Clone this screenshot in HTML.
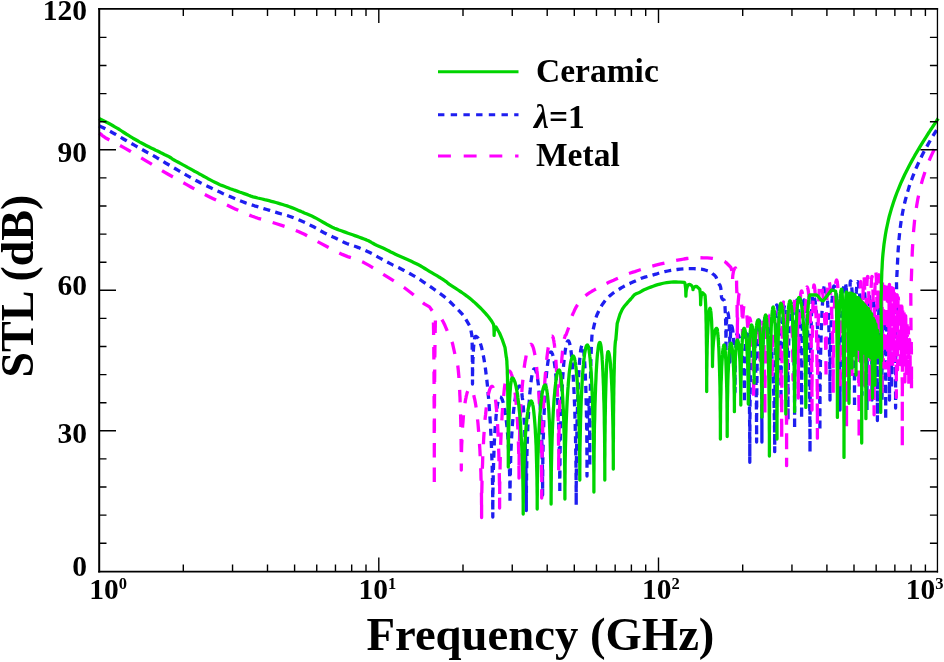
<!DOCTYPE html>
<html><head><meta charset="utf-8"><style>
html,body{margin:0;padding:0;background:#fff;width:944px;height:662px;overflow:hidden}
svg{display:block;will-change:transform}
</style></head><body>
<svg width="944" height="662" viewBox="0 0 944 662">
<g fill="none" stroke-linejoin="round">
<path d="M99.0,125.9L102.2,127.2 104.3,128.3 106.9,129.6 109.8,131.2 112.6,132.7 115.3,134.2 118.0,135.8 120.8,137.4 123.5,139.0 126.1,140.5 128.7,142.0 131.3,143.4 133.9,144.9 136.5,146.4 139.1,147.9 141.7,149.3 144.3,150.8 147.0,152.3 149.8,153.7 152.5,155.2 155.2,156.7 157.8,158.3 160.4,159.8 163.0,161.4 165.6,163.0 168.2,164.5 170.7,166.0 173.3,167.5 175.9,169.0 178.6,170.6 181.3,172.2 184.1,173.8 186.8,175.4 189.5,176.9 192.2,178.4 194.9,179.9 197.6,181.3 200.3,182.7 203.0,184.0 205.7,185.4 208.5,186.7 211.3,188.1 214.2,189.4 217.0,190.8 219.9,192.1 222.7,193.4 225.5,194.6 228.4,195.9 231.2,197.1 234.1,198.3 236.9,199.5 239.8,200.7 242.7,201.8 245.6,202.9 248.6,203.9 251.5,204.8 254.5,205.8 257.5,206.7 260.6,207.7 263.7,208.6 266.7,209.5 269.7,210.4 272.6,211.3 275.5,212.2 278.5,213.1 281.6,214.0 284.7,214.8 287.8,215.7 290.8,216.7 293.7,217.8 296.5,218.9 299.3,220.1 302.1,221.3 305.0,222.6 307.9,224.0 310.8,225.4 313.6,226.8 316.3,228.3 318.8,229.8 321.4,231.3 324.0,232.7 326.8,234.1 329.6,235.4 332.5,236.8 335.4,238.1 338.2,239.5 341.0,240.9 343.8,242.2 346.7,243.5 349.6,244.6 352.6,245.6 355.6,246.5 358.5,247.6 361.4,248.8 364.2,250.0 367.0,251.3 369.8,252.6 372.6,254.0 375.3,255.5 378.1,257.1 380.9,258.6 383.8,260.2 386.8,261.8 389.8,263.4 392.7,264.9 395.6,266.3 398.4,267.6 401.2,269.0 404.0,270.4 406.8,271.9 409.7,273.5 412.5,275.1 415.3,276.7 418.0,278.4 420.6,280.0 423.2,281.8 425.8,283.5 428.4,285.3 431.1,287.1 433.7,289.0 436.2,290.8 438.7,292.6 441.1,294.3 443.5,296.1 445.9,298.1 448.3,300.2 450.7,302.5 453.1,304.9 455.4,307.2 457.7,309.4 459.9,311.6 462.0,313.9 464.0,316.3 470.4,327.1 471.6,334.0 471.7,334.2 471.8,335.0 471.9,336.2 471.9,337.8 472.0,339.9 472.1,342.4 472.2,345.3 472.2,348.6 472.3,352.3 472.3,356.2 472.4,360.4 472.4,364.9 472.5,369.5 472.5,374.2 472.5,379.1 472.5,384.0 472.5,379.8 472.5,375.7 472.6,371.7 472.7,367.7 472.8,363.8 472.9,360.2 473.1,356.6 473.2,353.3 473.4,350.3 473.6,347.5 473.8,344.9 474.1,342.7 474.3,340.8 474.5,339.2 474.8,337.9 475.1,337.0 475.3,336.5 475.6,336.3 476.3,336.4 476.9,336.9 477.6,337.6 478.3,338.5 479.0,339.8 479.6,341.3 480.3,343.1 480.9,345.1 481.6,347.5 482.2,350.1 482.8,352.9 483.4,356.0 484.0,359.3 484.6,362.9 485.2,366.8 485.7,370.8 486.2,375.1 486.8,379.6 487.3,384.3 487.8,389.2 488.2,394.3 488.7,399.6 489.1,405.1 489.5,410.8 489.9,416.6 490.3,422.6 490.6,428.7 490.9,435.0 491.2,441.3 491.5,447.8 491.7,454.5 492.0,461.2 492.2,468.0 492.3,474.8 492.5,481.7 492.6,488.7 492.7,495.8 492.7,502.8 492.8,509.9 492.8,517.0 492.8,512.3 492.8,507.6 492.8,502.9 492.9,498.2 492.9,493.6 493.0,489.0 493.1,484.4 493.2,479.9 493.2,475.5 493.3,471.1 493.5,466.8 493.6,462.5 493.7,458.4 493.9,454.3 494.0,450.3 494.2,446.5 494.3,442.7 494.5,439.1 494.7,435.5 494.9,432.1 495.1,428.9 495.3,425.8 495.5,422.8 495.8,419.9 496.0,417.2 496.2,414.7 496.5,412.3 496.7,410.1 497.0,408.0 497.2,406.1 497.5,404.4 497.8,402.9 498.0,401.5 498.3,400.3 498.6,399.3 498.9,398.5 499.2,397.8 499.4,397.4 499.7,397.1 500.0,397.0 500.4,397.1 500.8,397.3 501.2,397.7 501.6,398.3 502.0,399.0 502.3,399.9 502.7,401.0 503.1,402.2 503.5,403.6 503.8,405.1 504.2,406.7 504.5,408.6 504.9,410.5 505.2,412.6 505.6,414.9 505.9,417.2 506.2,419.8 506.5,422.4 506.8,425.2 507.1,428.0 507.3,431.0 507.6,434.2 507.9,437.4 508.1,440.7 508.3,444.1 508.5,447.6 508.7,451.2 508.9,454.9 509.1,458.6 509.2,462.4 509.4,466.3 509.5,470.2 509.6,474.2 509.7,478.3 509.8,482.3 509.9,486.4 509.9,490.5 510.0,494.7 510.0,498.8 510.0,503.0 510.0,498.4 510.0,493.8 510.1,489.2 510.1,484.7 510.2,480.2 510.3,475.7 510.4,471.2 510.5,466.8 510.6,462.5 510.7,458.2 510.9,454.0 511.0,449.9 511.2,445.8 511.4,441.9 511.6,438.0 511.8,434.2 512.0,430.6 512.3,427.0 512.5,423.6 512.8,420.3 513.1,417.1 513.3,414.0 513.6,411.1 513.9,408.3 514.2,405.7 514.5,403.2 514.9,400.9 515.2,398.8 515.5,396.7 515.9,394.9 516.2,393.2 516.6,391.7 516.9,390.4 517.3,389.2 517.6,388.2 518.0,387.4 518.4,386.8 518.8,386.4 519.1,386.1 519.5,386.0 519.8,386.1 520.0,386.4 520.3,386.9 520.6,387.5 520.8,388.4 521.1,389.4 521.3,390.7 521.6,392.1 521.9,393.7 522.1,395.5 522.3,397.4 522.6,399.6 522.8,401.9 523.1,404.4 523.3,407.0 523.5,409.8 523.7,412.7 523.9,415.9 524.1,419.1 524.3,422.5 524.5,426.0 524.7,429.7 524.8,433.5 525.0,437.4 525.2,441.4 525.3,445.5 525.4,449.7 525.6,454.0 525.7,458.4 525.8,462.9 525.9,467.5 526.0,472.1 526.0,476.8 526.1,481.5 526.2,486.3 526.2,491.1 526.3,496.0 526.3,500.8 526.3,505.7 526.3,510.6 526.3,505.0 526.3,499.5 526.4,493.9 526.4,488.4 526.5,482.9 526.5,477.5 526.6,472.1 526.7,466.8 526.8,461.5 526.9,456.3 527.0,451.2 527.2,446.2 527.3,441.3 527.5,436.5 527.7,431.8 527.8,427.3 528.0,422.8 528.2,418.5 528.5,414.3 528.7,410.3 528.9,406.5 529.1,402.8 529.4,399.2 529.6,395.9 529.9,392.7 530.2,389.7 530.4,386.9 530.7,384.3 531.0,381.8 531.3,379.6 531.6,377.6 531.9,375.7 532.2,374.1 532.5,372.7 532.8,371.5 533.1,370.5 533.4,369.8 533.8,369.2 534.1,368.9 534.4,368.8 534.7,368.9 535.0,369.2 535.4,369.7 535.7,370.4 536.0,371.2 536.3,372.3 536.6,373.5 536.9,375.0 537.2,376.6 537.5,378.4 537.8,380.4 538.1,382.6 538.4,384.9 538.7,387.4 539.0,390.1 539.2,392.9 539.5,395.9 539.7,399.0 540.0,402.3 540.2,405.8 540.4,409.3 540.6,413.0 540.8,416.9 541.0,420.8 541.2,424.9 541.4,429.1 541.6,433.3 541.7,437.7 541.8,442.2 542.0,446.7 542.1,451.3 542.2,456.0 542.3,460.7 542.4,465.5 542.4,470.4 542.5,475.3 542.5,480.2 542.6,485.1 542.6,490.0 542.6,495.0 542.6,489.4 542.6,483.8 542.7,478.2 542.7,472.6 542.8,467.1 542.8,461.6 542.9,456.2 543.0,450.8 543.1,445.5 543.2,440.3 543.4,435.1 543.5,430.1 543.7,425.1 543.8,420.3 544.0,415.6 544.2,410.9 544.4,406.5 544.6,402.1 544.8,397.9 545.1,393.9 545.3,390.0 545.5,386.3 545.8,382.7 546.1,379.3 546.3,376.1 546.6,373.1 546.9,370.2 547.2,367.6 547.5,365.1 547.8,362.9 548.1,360.8 548.4,359.0 548.7,357.4 549.0,356.0 549.4,354.7 549.7,353.8 550.0,353.0 550.3,352.4 550.7,352.1 551.0,352.0 551.3,352.1 551.7,352.4 552.0,353.0 552.4,353.7 552.7,354.7 553.1,355.9 553.4,357.3 553.7,358.9 554.0,360.7 554.4,362.7 554.7,365.0 555.0,367.4 555.3,370.0 555.6,372.8 555.9,375.8 556.2,378.9 556.4,382.3 556.7,385.8 557.0,389.5 557.2,393.3 557.5,397.3 557.7,401.4 557.9,405.7 558.1,410.1 558.3,414.7 558.5,419.3 558.7,424.1 558.8,429.0 559.0,434.0 559.1,439.0 559.3,444.2 559.4,449.4 559.5,454.7 559.6,460.1 559.6,465.5 559.7,470.9 559.7,476.4 559.8,481.9 559.8,487.5 559.8,493.0 559.8,487.0 559.8,481.1 559.9,475.1 559.9,469.2 560.0,463.3 560.0,457.5 560.1,451.7 560.2,446.0 560.3,440.3 560.4,434.8 560.6,429.3 560.7,423.9 560.9,418.6 561.0,413.5 561.2,408.4 561.4,403.5 561.6,398.8 561.8,394.2 562.0,389.7 562.3,385.4 562.5,381.2 562.7,377.3 563.0,373.5 563.3,369.9 563.5,366.5 563.8,363.2 564.1,360.2 564.4,357.4 564.7,354.8 565.0,352.4 565.3,350.2 565.6,348.2 565.9,346.5 566.2,345.0 566.6,343.7 566.9,342.7 567.2,341.9 567.5,341.3 567.9,340.9 568.2,340.8 568.5,340.9 568.8,341.3 569.1,341.9 569.5,342.8 569.8,344.0 570.1,345.3 570.4,347.0 570.7,348.8 571.0,350.9 571.3,353.3 571.5,355.9 571.8,358.7 572.1,361.7 572.4,365.0 572.6,368.5 572.9,372.2 573.2,376.1 573.4,380.1 573.6,384.4 573.9,388.9 574.1,393.5 574.3,398.4 574.5,403.3 574.7,408.5 574.9,413.8 575.0,419.2 575.2,424.8 575.3,430.5 575.5,436.3 575.6,442.2 575.7,448.2 575.8,454.3 575.9,460.4 576.0,466.7 576.0,473.0 576.1,479.3 576.1,485.7 576.2,492.1 576.2,498.6 576.2,505.0 576.2,498.7 576.2,492.4 576.2,486.2 576.3,480.0 576.3,473.8 576.4,467.6 576.4,461.6 576.5,455.6 576.6,449.6 576.7,443.8 576.8,438.0 576.9,432.4 577.0,426.8 577.1,421.4 577.2,416.1 577.4,411.0 577.5,405.9 577.7,401.1 577.8,396.4 578.0,391.9 578.2,387.5 578.3,383.3 578.5,379.3 578.7,375.6 578.9,372.0 579.1,368.6 579.3,365.4 579.5,362.4 579.7,359.7 580.0,357.2 580.2,354.9 580.4,352.8 580.6,351.0 580.9,349.4 581.1,348.1 581.3,347.0 581.6,346.1 581.8,345.5 582.1,345.1 582.3,345.0 582.5,345.1 582.7,345.4 582.9,345.9 583.0,346.6 583.2,347.5 583.4,348.6 583.6,349.9 583.8,351.4 583.9,353.1 584.1,355.0 584.3,357.0 584.4,359.3 584.6,361.7 584.8,364.3 584.9,367.1 585.1,370.0 585.2,373.1 585.4,376.4 585.5,379.8 585.6,383.4 585.8,387.1 585.9,390.9 586.0,394.9 586.1,399.0 586.2,403.2 586.3,407.6 586.4,412.0 586.5,416.5 586.6,421.2 586.6,425.9 586.7,430.7 586.8,435.5 586.8,440.4 586.9,445.4 586.9,450.4 586.9,455.5 587.0,460.6 587.0,465.7 587.0,470.9 587.0,476.0 587.0,471.4 587.0,466.8 587.0,462.3 587.0,457.8 587.1,453.4 587.1,449.1 587.1,444.8 587.2,440.7 587.2,436.7 587.3,432.8 587.3,429.1 587.4,425.6 587.4,422.3 587.5,419.1 587.6,416.2 587.6,413.5 587.7,411.0 587.8,408.7 587.9,406.7 588.0,404.9 588.1,403.4 588.1,402.2 588.2,401.2 588.3,400.6 588.4,400.1 588.5,400.0 588.6,400.2 588.7,400.6 588.8,401.4 588.9,402.4 588.9,403.8 589.0,405.5 589.1,407.4 589.2,409.6 589.2,412.1 589.3,414.8 589.4,417.8 589.5,421.0 589.5,424.3 589.6,427.9 589.6,431.7 589.7,435.6 589.7,439.7 589.7,443.9 589.8,448.2 589.8,452.6 589.8,457.0 589.8,461.5 589.8,466.0 589.8,460.7 589.8,455.5 589.8,450.2 589.8,445.0 589.9,439.8 589.9,434.6 589.9,429.5 589.9,424.5 590.0,419.5 590.0,414.6 590.1,409.8 590.1,405.0 590.2,400.4 590.2,395.8 590.3,391.4 590.4,387.1 590.4,382.9 590.5,378.8 590.6,374.8 590.6,371.0 590.7,367.4 590.8,363.9 590.9,360.5 591.0,357.3 591.1,354.3 591.2,351.5 591.3,348.8 591.4,346.3 591.5,344.0 591.6,341.9 591.7,340.0 591.8,338.3 591.9,336.7 592.0,335.4 592.1,334.3 592.2,333.4 592.4,332.6 592.5,332.1 592.6,331.8 592.7,331.7 595.8,318.0 596.9,315.0 598.3,312.0 599.6,309.4 600.8,307.1 601.8,305.3 602.7,303.9 603.6,302.7 604.5,301.5 605.5,300.2 606.6,299.0 607.8,297.8 608.9,296.7 610.0,295.6 611.1,294.7 612.3,293.7 613.5,292.8 614.8,291.9 616.1,291.1 617.5,290.2 618.9,289.4 620.3,288.5 621.6,287.7 623.1,286.8 624.5,286.0 625.9,285.3 627.4,284.6 628.9,283.9 630.7,283.1 632.9,282.1 635.4,280.9 637.8,279.8 639.7,279.0 642.2,278.0 644.8,277.2 648.2,276.3 651.9,275.3 654.9,274.4 657.0,273.8 658.6,273.2 660.2,272.7 662.2,272.2 664.8,271.6 667.8,271.0 670.9,270.4 674.0,269.9 677.1,269.5 680.2,269.1 683.4,268.9 686.6,268.7 689.9,268.7 693.4,268.7 696.6,268.8 699.3,269.0 701.2,269.2 702.6,269.4 703.7,269.6 705.0,270.0 706.6,270.5 708.3,271.0 709.9,271.6 711.1,272.2 712.9,274.0 713.6,274.5 714.3,275.1 715.2,275.9 716.0,277.0 719.5,285.0 720.0,285.4 720.4,286.5 720.8,288.2 721.1,290.5 721.3,293.2 721.4,296.0 721.5,297.0 721.7,298.0 722.2,298.8 722.7,299.5 723.3,299.9 724.0,300.0 724.2,300.2 724.3,300.7 724.5,301.6 724.6,302.8 724.8,304.4 725.0,306.3 725.1,308.5 725.2,311.0 725.4,313.7 725.5,316.8 725.6,320.1 725.7,323.6 725.8,327.3 725.8,331.1 725.9,335.1 725.9,339.2 726.0,343.4 726.0,347.7 726.0,352.0 726.0,347.5 726.0,343.1 726.1,338.8 726.1,334.6 726.2,330.7 726.3,327.1 726.4,323.7 726.6,320.7 726.7,318.1 726.8,316.0 727.0,314.2 727.2,313.0 727.3,312.3 727.5,312.0 727.7,312.2 727.9,312.8 728.1,313.7 728.4,315.0 728.6,316.7 728.8,318.7 728.9,321.0 729.1,323.7 729.3,326.6 729.4,329.9 729.5,333.3 729.7,337.0 729.8,340.9 729.8,344.9 729.9,349.1 730.0,353.3 730.0,357.6 730.0,362.0 730.0,357.7 730.0,353.4 730.1,349.2 730.2,345.3 730.3,341.5 730.4,338.1 730.5,335.1 730.6,332.4 730.8,330.1 731.0,328.3 731.1,327.0 731.3,326.3 731.5,326.0 731.7,326.1 731.9,326.5 732.2,327.2 732.4,328.1 732.6,329.2 732.8,330.6 733.0,332.3 733.2,334.2 733.4,336.3 733.6,338.6 733.7,341.1 733.9,343.9 734.1,346.8 734.2,349.9 734.3,353.2 734.5,356.6 734.6,360.2 734.7,363.9 734.8,367.7 734.8,371.6 734.9,375.6 734.9,379.6 735.0,383.7 735.0,387.9 735.0,392.0 735.0,387.7 735.0,383.4 735.1,379.1 735.1,374.9 735.1,370.8 735.2,366.8 735.3,363.0 735.3,359.3 735.4,355.8 735.5,352.5 735.6,349.5 735.8,346.7 735.9,344.1 736.0,341.8 736.1,339.7 736.3,338.0 736.4,336.6 736.6,335.5 736.7,334.6 736.9,334.2 737.0,334.0 737.4,334.1 737.8,334.4 738.2,334.9 738.6,335.6 739.0,336.5 739.4,337.6 739.8,338.9 740.1,340.3 740.5,342.0 740.9,343.8 741.2,345.8 741.5,348.0 741.9,350.3 742.2,352.8 742.4,355.4 742.7,358.2 743.0,361.1 743.2,364.1 743.4,367.2 743.6,370.5 743.8,373.8 744.0,377.2 744.1,380.7 744.2,384.2 744.3,387.9 744.4,391.5 744.5,395.2 744.5,398.9 744.5,402.6 744.5,398.2 744.5,393.8 744.5,389.5 744.6,385.2 744.6,381.0 744.6,376.9 744.7,372.8 744.7,368.9 744.8,365.0 744.9,361.4 744.9,357.8 745.0,354.5 745.1,351.3 745.2,348.3 745.3,345.5 745.4,342.9 745.5,340.5 745.6,338.3 745.7,336.4 745.8,334.7 745.9,333.3 746.0,332.1 746.1,331.2 746.3,330.5 746.4,330.1 746.5,330.0 746.6,330.1 746.8,330.4 746.9,330.9 747.0,331.6 747.1,332.5 747.3,333.7 747.4,335.0 747.5,336.5 747.6,338.2 747.8,340.1 747.9,342.2 748.0,344.4 748.1,346.9 748.2,349.5 748.3,352.3 748.4,355.3 748.5,358.4 748.6,361.7 748.7,365.1 748.8,368.7 748.9,372.5 749.0,376.4 749.1,380.4 749.2,384.5 749.2,388.8 749.3,393.2 749.4,397.7 749.4,402.2 749.5,406.9 749.5,411.7 749.6,416.5 749.6,421.4 749.7,426.4 749.7,431.4 749.7,436.5 749.8,441.6 749.8,446.7 749.8,451.9 749.8,457.1 749.8,462.3 749.8,456.9 749.8,451.5 749.8,446.2 749.8,440.8 749.9,435.5 749.9,430.2 749.9,425.0 749.9,419.9 750.0,414.8 750.0,409.8 750.0,404.8 750.1,400.0 750.1,395.2 750.2,390.6 750.3,386.0 750.3,381.6 750.4,377.3 750.4,373.1 750.5,369.1 750.6,365.2 750.7,361.5 750.7,357.9 750.8,354.5 750.9,351.2 751.0,348.1 751.1,345.2 751.2,342.5 751.3,340.0 751.4,337.6 751.5,335.5 751.6,333.5 751.7,331.7 751.8,330.2 751.9,328.8 752.0,327.6 752.1,326.7 752.2,326.0 752.3,325.4 752.4,325.1 752.5,325.0 752.7,325.1 752.8,325.4 753.0,325.8 753.1,326.4 753.3,327.2 753.5,328.2 753.6,329.4 753.8,330.7 753.9,332.2 754.1,333.9 754.2,335.7 754.4,337.8 754.5,339.9 754.6,342.2 754.8,344.7 754.9,347.3 755.0,350.1 755.2,353.0 755.3,356.1 755.4,359.3 755.5,362.6 755.6,366.0 755.7,369.6 755.8,373.2 755.9,377.0 756.0,380.9 756.1,384.8 756.2,388.9 756.2,393.0 756.3,397.2 756.3,401.5 756.4,405.8 756.4,410.2 756.5,414.7 756.5,419.2 756.5,423.7 756.6,428.2 756.6,432.8 756.6,437.4 756.6,442.0 756.6,437.2 756.6,432.4 756.6,427.7 756.6,422.9 756.6,418.2 756.7,413.5 756.7,408.9 756.7,404.3 756.7,399.8 756.8,395.3 756.8,390.9 756.9,386.6 756.9,382.4 757.0,378.3 757.0,374.2 757.1,370.3 757.1,366.5 757.2,362.8 757.2,359.2 757.3,355.7 757.4,352.4 757.4,349.2 757.5,346.2 757.6,343.3 757.7,340.6 757.7,338.0 757.8,335.6 757.9,333.3 758.0,331.2 758.1,329.3 758.2,327.5 758.3,326.0 758.3,324.6 758.4,323.4 758.5,322.3 758.6,321.5 758.7,320.8 758.8,320.4 758.9,320.1 759.0,320.0 759.1,320.1 759.2,320.4 759.3,320.8 759.5,321.5 759.6,322.3 759.7,323.4 759.8,324.6 759.9,326.0 760.0,327.5 760.1,329.3 760.2,331.2 760.3,333.3 760.4,335.6 760.5,338.0 760.6,340.6 760.7,343.3 760.8,346.2 760.9,349.2 761.0,352.4 761.1,355.7 761.1,359.2 761.2,362.8 761.3,366.5 761.3,370.3 761.4,374.2 761.5,378.3 761.5,382.4 761.6,386.6 761.6,390.9 761.7,395.3 761.7,399.8 761.8,404.3 761.8,408.9 761.8,413.5 761.8,418.2 761.9,422.9 761.9,427.7 761.9,432.4 761.9,437.2 761.9,442.0 761.9,437.1 761.9,432.3 761.9,427.4 761.9,422.6 762.0,417.8 762.0,413.1 762.0,408.3 762.1,403.7 762.1,399.1 762.1,394.5 762.2,390.1 762.2,385.7 762.3,381.4 762.4,377.2 762.4,373.1 762.5,369.1 762.6,365.2 762.6,361.5 762.7,357.8 762.8,354.3 762.9,350.9 763.0,347.7 763.1,344.6 763.2,341.7 763.3,338.9 763.4,336.3 763.5,333.8 763.6,331.5 763.7,329.4 763.8,327.4 763.9,325.7 764.0,324.1 764.2,322.7 764.3,321.4 764.4,320.4 764.5,319.5 764.6,318.9 764.8,318.4 764.9,318.1 765.0,318.0 765.4,318.1 765.8,318.4 766.1,318.9 766.5,319.6 766.9,320.6 767.3,321.7 767.6,323.0 768.0,324.5 768.4,326.3 768.7,328.2 769.1,330.3 769.4,332.6 769.7,335.0 770.1,337.7 770.4,340.5 770.7,343.5 771.0,346.7 771.3,350.0 771.6,353.5 771.9,357.2 772.1,360.9 772.4,364.9 772.6,368.9 772.8,373.1 773.1,377.4 773.3,381.8 773.5,386.4 773.6,391.0 773.8,395.7 774.0,400.5 774.1,405.4 774.2,410.4 774.3,415.4 774.4,420.5 774.5,425.6 774.6,430.8 774.6,436.0 774.7,441.2 774.7,446.5 774.7,451.7 774.7,445.9 774.7,440.2 774.7,434.5 774.7,428.8 774.7,423.1 774.8,417.5 774.8,411.9 774.8,406.4 774.8,400.9 774.9,395.6 774.9,390.3 774.9,385.1 775.0,380.0 775.0,375.0 775.0,370.2 775.1,365.5 775.1,360.9 775.2,356.4 775.2,352.1 775.3,348.0 775.3,344.0 775.4,340.1 775.5,336.5 775.5,333.0 775.6,329.7 775.7,326.6 775.7,323.7 775.8,321.0 775.9,318.5 775.9,316.2 776.0,314.1 776.1,312.2 776.2,310.5 776.2,309.1 776.3,307.8 776.4,306.8 776.5,306.0 776.5,305.5 776.6,305.1 776.7,305.0 776.9,305.1 777.1,305.4 777.3,305.9 777.5,306.5 777.7,307.4 777.8,308.4 778.0,309.6 778.2,311.1 778.4,312.6 778.6,314.4 778.7,316.3 778.9,318.4 779.1,320.7 779.2,323.1 779.4,325.7 779.5,328.5 779.7,331.3 779.8,334.3 779.9,337.5 780.1,340.8 780.2,344.2 780.3,347.7 780.4,351.3 780.5,355.0 780.6,358.8 780.7,362.7 780.7,366.6 780.8,370.6 780.8,374.7 780.9,378.9 780.9,383.0 781.0,387.2 781.0,391.5 781.0,395.7 781.0,400.0 781.0,395.7 781.0,391.5 781.0,387.2 781.1,383.0 781.1,378.9 781.1,374.7 781.2,370.6 781.3,366.6 781.3,362.7 781.4,358.8 781.5,355.0 781.6,351.3 781.7,347.7 781.8,344.2 781.9,340.8 782.0,337.5 782.1,334.3 782.2,331.3 782.4,328.5 782.5,325.7 782.6,323.1 782.8,320.7 782.9,318.4 783.1,316.3 783.3,314.4 783.4,312.6 783.6,311.1 783.8,309.6 783.9,308.4 784.1,307.4 784.3,306.5 784.5,305.9 784.6,305.4 784.8,305.1 785.0,305.0 785.1,305.1 785.2,305.4 785.4,305.8 785.5,306.4 785.6,307.2 785.7,308.2 785.8,309.3 785.9,310.6 786.0,312.1 786.1,313.8 786.3,315.6 786.4,317.5 786.5,319.7 786.6,321.9 786.7,324.4 786.8,327.0 786.9,329.7 786.9,332.6 787.0,335.6 787.1,338.7 787.2,341.9 787.3,345.3 787.4,348.8 787.4,352.4 787.5,356.1 787.6,359.9 787.6,363.8 787.7,367.8 787.7,371.9 787.8,376.0 787.8,380.2 787.9,384.5 787.9,388.8 787.9,393.2 787.9,397.6 788.0,402.0 788.0,406.5 788.0,411.0 788.0,415.5 788.0,420.0 788.0,415.4 788.0,410.8 788.0,406.2 788.0,401.7 788.1,397.2 788.1,392.7 788.1,388.2 788.1,383.8 788.2,379.5 788.2,375.2 788.3,371.0 788.3,366.9 788.4,362.8 788.4,358.9 788.5,355.0 788.6,351.2 788.6,347.6 788.7,344.0 788.8,340.6 788.9,337.3 789.0,334.1 789.1,331.0 789.1,328.1 789.2,325.3 789.3,322.7 789.4,320.2 789.5,317.9 789.6,315.8 789.7,313.7 789.9,311.9 790.0,310.2 790.1,308.7 790.2,307.4 790.3,306.2 790.4,305.2 790.5,304.4 790.6,303.8 790.8,303.4 790.9,303.1 791.0,303.0 791.1,303.1 791.3,303.4 791.4,303.9 791.6,304.6 791.7,305.4 791.8,306.5 792.0,307.7 792.1,309.2 792.2,310.8 792.4,312.6 792.5,314.6 792.6,316.7 792.8,319.1 792.9,321.6 793.0,324.2 793.1,327.1 793.2,330.1 793.3,333.2 793.4,336.5 793.5,339.9 793.6,343.5 793.7,347.2 793.8,351.0 793.9,354.9 794.0,359.0 794.1,363.2 794.1,367.4 794.2,371.8 794.3,376.2 794.3,380.8 794.4,385.4 794.4,390.1 794.5,394.8 794.5,399.6 794.5,404.4 794.6,409.3 794.6,414.2 794.6,419.1 794.6,424.1 794.6,429.0 794.6,423.9 794.6,418.9 794.6,413.8 794.6,408.8 794.6,403.8 794.7,398.9 794.7,394.0 794.7,389.1 794.7,384.4 794.8,379.6 794.8,375.0 794.9,370.4 794.9,366.0 795.0,361.6 795.0,357.3 795.1,353.2 795.1,349.1 795.2,345.2 795.2,341.4 795.3,337.8 795.4,334.3 795.4,330.9 795.5,327.7 795.6,324.6 795.7,321.7 795.7,319.0 795.8,316.4 795.9,314.1 796.0,311.8 796.1,309.8 796.2,308.0 796.3,306.3 796.3,304.8 796.4,303.6 796.5,302.5 796.6,301.6 796.7,300.9 796.8,300.4 796.9,300.1 797.0,300.0 797.2,300.1 797.4,300.4 797.5,300.8 797.7,301.5 797.9,302.3 798.1,303.3 798.2,304.4 798.4,305.8 798.6,307.3 798.8,309.0 798.9,310.9 799.1,312.9 799.2,315.1 799.4,317.4 799.6,319.9 799.7,322.6 799.8,325.4 800.0,328.3 800.1,331.4 800.3,334.6 800.4,338.0 800.5,341.5 800.6,345.1 800.7,348.8 800.8,352.6 800.9,356.5 801.0,360.5 801.1,364.6 801.2,368.8 801.2,373.0 801.3,377.4 801.4,381.7 801.4,386.2 801.5,390.7 801.5,395.2 801.5,399.8 801.6,404.4 801.6,409.0 801.6,413.7 801.6,418.3 801.6,413.7 801.6,409.0 801.6,404.4 801.6,399.8 801.6,395.2 801.7,390.7 801.7,386.2 801.7,381.7 801.7,377.4 801.8,373.0 801.8,368.8 801.9,364.6 801.9,360.5 802.0,356.5 802.0,352.6 802.1,348.8 802.1,345.1 802.2,341.5 802.2,338.0 802.3,334.6 802.4,331.4 802.4,328.3 802.5,325.4 802.6,322.6 802.7,319.9 802.7,317.4 802.8,315.1 802.9,312.9 803.0,310.9 803.1,309.0 803.2,307.3 803.3,305.8 803.3,304.4 803.4,303.3 803.5,302.3 803.6,301.5 803.7,300.8 803.8,300.4 803.9,300.1 804.0,300.0 804.2,300.1 804.5,300.5 804.7,301.1 804.9,301.9 805.2,302.9 805.4,304.2 805.6,305.7 805.9,307.5 806.1,309.4 806.3,311.6 806.5,314.0 806.7,316.6 806.9,319.4 807.1,322.5 807.3,325.7 807.5,329.1 807.7,332.7 807.9,336.5 808.1,340.5 808.2,344.6 808.4,349.0 808.6,353.4 808.7,358.1 808.9,362.8 809.0,367.7 809.1,372.8 809.2,377.9 809.3,383.2 809.4,388.6 809.5,394.1 809.6,399.7 809.7,405.3 809.8,411.0 809.8,416.8 809.9,422.7 809.9,428.6 810.0,434.5 810.0,440.4 810.0,446.4 810.0,452.4 810.0,446.2 810.0,440.1 810.0,433.9 810.0,427.8 810.1,421.7 810.1,415.7 810.1,409.7 810.1,403.8 810.2,397.9 810.2,392.2 810.3,386.5 810.3,380.9 810.4,375.5 810.4,370.2 810.5,365.0 810.6,359.9 810.6,355.0 810.7,350.2 810.8,345.6 810.9,341.1 811.0,336.8 811.1,332.7 811.1,328.8 811.2,325.1 811.3,321.5 811.4,318.2 811.5,315.1 811.6,312.2 811.7,309.5 811.9,307.0 812.0,304.7 812.1,302.7 812.2,300.9 812.3,299.3 812.4,298.0 812.5,296.9 812.6,296.1 812.8,295.5 812.9,295.1 813.0,295.0 813.3,295.1 813.5,295.4 813.8,295.9 814.1,296.7 814.3,297.6 814.6,298.7 814.9,300.1 815.1,301.6 815.4,303.4 815.6,305.3 815.9,307.5 816.1,309.8 816.4,312.3 816.6,315.0 816.8,317.9 817.1,320.9 817.3,324.1 817.5,327.5 817.7,331.1 817.9,334.7 818.1,338.6 818.2,342.6 818.4,346.7 818.6,350.9 818.7,355.3 818.9,359.8 819.0,364.4 819.1,369.1 819.3,373.9 819.4,378.8 819.5,383.7 819.6,388.8 819.6,393.9 819.7,399.0 819.8,404.2 819.8,409.5 819.9,414.8 819.9,420.1 819.9,425.4 819.9,430.7 819.9,425.0 819.9,419.3 819.9,413.6 820.0,407.9 820.0,402.3 820.0,396.7 820.1,391.2 820.1,385.7 820.2,380.3 820.3,374.9 820.4,369.7 820.4,364.6 820.5,359.5 820.6,354.6 820.7,349.8 820.9,345.1 821.0,340.5 821.1,336.1 821.2,331.8 821.4,327.7 821.5,323.7 821.7,319.9 821.8,316.3 822.0,312.8 822.1,309.6 822.3,306.5 822.5,303.6 822.6,300.9 822.8,298.4 823.0,296.1 823.2,294.0 823.4,292.1 823.5,290.5 823.7,289.0 823.9,287.8 824.1,286.8 824.3,286.0 824.5,285.4 824.7,285.1 824.9,285.0 825.1,285.1 825.3,285.4 825.5,285.8 825.7,286.4 825.9,287.2 826.1,288.2 826.3,289.3 826.5,290.6 826.7,292.1 826.9,293.8 827.0,295.6 827.2,297.5 827.4,299.7 827.6,301.9 827.7,304.4 827.9,307.0 828.1,309.7 828.2,312.6 828.4,315.6 828.5,318.7 828.6,321.9 828.8,325.3 828.9,328.8 829.0,332.4 829.1,336.1 829.2,339.9 829.3,343.8 829.4,347.8 829.5,351.9 829.6,356.0 829.7,360.2 829.8,364.5 829.8,368.8 829.9,373.2 829.9,377.6 829.9,382.0 830.0,386.5 830.0,391.0 830.0,395.5 830.0,400.0 830.0,395.5 830.0,391.1 830.0,386.6 830.0,382.2 830.1,377.8 830.1,373.4 830.2,369.1 830.2,364.8 830.2,360.5 830.3,356.4 830.4,352.3 830.4,348.2 830.5,344.3 830.6,340.4 830.7,336.7 830.8,333.0 830.9,329.4 831.0,326.0 831.1,322.6 831.2,319.4 831.3,316.3 831.4,313.3 831.5,310.5 831.6,307.8 831.8,305.2 831.9,302.8 832.0,300.5 832.2,298.4 832.3,296.5 832.5,294.7 832.6,293.0 832.8,291.6 832.9,290.3 833.1,289.1 833.2,288.2 833.4,287.4 833.5,286.8 833.7,286.4 833.8,286.1 834.0,286.0 834.2,286.1 834.5,286.4 834.7,286.9 834.9,287.5 835.2,288.4 835.4,289.4 835.6,290.7 835.9,292.1 836.1,293.7 836.3,295.4 836.5,297.4 836.7,299.5 836.9,301.8 837.1,304.3 837.3,306.9 837.5,309.7 837.7,312.6 837.9,315.7 838.1,318.9 838.2,322.3 838.4,325.8 838.6,329.5 838.7,333.2 838.9,337.1 839.0,341.1 839.1,345.2 839.2,349.4 839.3,353.7 839.4,358.1 839.5,362.5 839.6,367.1 839.7,371.7 839.8,376.3 839.8,381.1 839.9,385.8 839.9,390.6 840.0,395.4 840.0,400.3 840.0,405.1 840.0,410.0 840.0,405.0 840.0,400.0 840.0,395.1 840.1,390.1 840.1,385.2 840.1,380.4 840.2,375.5 840.2,370.8 840.3,366.0 840.4,361.4 840.5,356.8 840.5,352.3 840.6,347.9 840.7,343.6 840.8,339.4 841.0,335.4 841.1,331.4 841.2,327.5 841.3,323.8 841.5,320.2 841.6,316.7 841.8,313.4 841.9,310.3 842.1,307.3 842.2,304.4 842.4,301.7 842.6,299.2 842.7,296.8 842.9,294.7 843.1,292.7 843.3,290.8 843.5,289.2 843.6,287.8 843.8,286.5 844.0,285.4 844.2,284.6 844.4,283.9 844.6,283.4 844.8,283.1 845.0,283.0 845.2,283.1 845.3,283.3 845.5,283.8 845.6,284.4 845.8,285.2 846.0,286.1 846.1,287.2 846.3,288.5 846.4,290.0 846.6,291.6 846.7,293.3 846.9,295.3 847.0,297.3 847.1,299.6 847.3,301.9 847.4,304.5 847.5,307.1 847.7,309.9 847.8,312.8 847.9,315.9 848.0,319.0 848.1,322.3 848.2,325.7 848.3,329.2 848.4,332.8 848.5,336.5 848.5,340.3 848.6,344.1 848.7,348.1 848.7,352.1 848.8,356.1 848.8,360.2 848.9,364.4 848.9,368.6 848.9,372.8 849.0,377.1 849.0,381.4 849.0,385.7 849.0,390.0 849.0,385.4 849.0,380.8 849.0,376.2 849.0,371.6 849.0,367.0 849.0,362.5 849.1,358.1 849.1,353.7 849.1,349.4 849.1,345.1 849.2,340.9 849.2,336.8 849.2,332.9 849.3,329.0 849.3,325.2 849.3,321.5 849.4,318.0 849.4,314.6 849.5,311.3 849.5,308.2 849.6,305.2 849.6,302.4 849.7,299.7 849.7,297.2 849.8,294.8 849.8,292.7 849.9,290.7 849.9,288.9 850.0,287.2 850.1,285.8 850.1,284.5 850.2,283.4 850.2,282.6 850.3,281.9 850.4,281.4 850.4,281.1 850.5,281.0 850.7,281.1 850.8,281.4 851.0,281.9 851.1,282.6 851.3,283.4 851.4,284.5 851.6,285.7 851.7,287.2 851.9,288.8 852.0,290.6 852.2,292.6 852.3,294.8 852.5,297.1 852.6,299.6 852.7,302.3 852.9,305.1 853.0,308.1 853.1,311.3 853.2,314.6 853.3,318.0 853.4,321.6 853.5,325.3 853.6,329.1 853.7,333.1 853.8,337.2 853.9,341.4 854.0,345.6 854.1,350.0 854.1,354.5 854.2,359.0 854.3,363.7 854.3,368.3 854.3,373.1 854.4,377.9 854.4,382.7 854.5,387.6 854.5,392.5 854.5,397.5 854.5,402.4 854.5,407.4 854.5,402.5 854.5,397.5 854.5,392.6 854.5,387.7 854.6,382.9 854.6,378.0 854.6,373.3 854.6,368.5 854.7,363.9 854.7,359.3 854.8,354.7 854.8,350.3 854.9,345.9 854.9,341.7 855.0,337.5 855.1,333.5 855.1,329.5 855.2,325.7 855.3,322.0 855.4,318.4 855.5,315.0 855.6,311.7 855.6,308.6 855.7,305.6 855.8,302.8 855.9,300.1 856.0,297.6 856.1,295.3 856.2,293.2 856.4,291.2 856.5,289.4 856.6,287.8 856.7,286.3 856.8,285.1 856.9,284.0 857.0,283.1 857.1,282.5 857.3,282.0 857.4,281.7 857.5,281.6 857.7,281.7 857.9,281.9 858.0,282.4 858.2,283.0 858.4,283.8 858.6,284.7 858.7,285.9 858.9,287.2 859.1,288.6 859.2,290.2 859.4,292.0 859.5,294.0 859.7,296.1 859.9,298.3 860.0,300.7 860.1,303.3 860.3,305.9 860.4,308.8 860.6,311.7 860.7,314.8 860.8,318.0 860.9,321.4 861.0,324.8 861.1,328.3 861.2,332.0 861.3,335.7 861.4,339.6 861.5,343.5 861.6,347.5 861.7,351.6 861.7,355.8 861.8,360.0 861.8,364.2 861.9,368.5 861.9,372.9 861.9,377.3 862.0,381.7 862.0,386.1 862.0,390.5 862.0,395.0 862.0,390.5 862.0,386.1 862.0,381.7 862.0,377.3 862.0,372.9 862.1,368.5 862.1,364.3 862.1,360.0 862.1,355.9 862.2,351.8 862.2,347.7 862.3,343.8 862.3,339.9 862.3,336.2 862.4,332.6 862.4,329.0 862.5,325.6 862.6,322.3 862.6,319.2 862.7,316.2 862.7,313.3 862.8,310.6 862.9,308.0 863.0,305.6 863.0,303.3 863.1,301.2 863.2,299.3 863.3,297.6 863.3,296.0 863.4,294.6 863.5,293.4 863.6,292.4 863.7,291.5 863.7,290.9 863.8,290.4 863.9,290.1 864.0,290.0 864.1,290.1 864.2,290.4 864.4,290.8 864.5,291.5 864.6,292.3 864.7,293.3 864.8,294.5 864.9,295.9 865.0,297.4 865.1,299.1 865.3,301.0 865.4,303.1 865.5,305.3 865.6,307.7 865.7,310.2 865.8,312.9 865.9,315.8 865.9,318.8 866.0,321.9 866.1,325.1 866.2,328.5 866.3,332.1 866.4,335.7 866.4,339.5 866.5,343.3 866.6,347.3 866.6,351.4 866.7,355.5 866.7,359.8 866.8,364.1 866.8,368.5 866.9,372.9 866.9,377.4 866.9,382.0 866.9,386.6 867.0,391.2 867.0,395.9 867.0,400.6 867.0,405.3 867.0,410.0 867.0,405.5 867.0,401.0 867.0,396.5 867.0,392.0 867.0,387.6 867.1,383.2 867.1,378.8 867.1,374.5 867.1,370.2 867.2,366.0 867.2,361.9 867.2,357.8 867.3,353.8 867.3,349.9 867.3,346.1 867.4,342.4 867.4,338.8 867.5,335.3 867.5,331.9 867.6,328.7 867.6,325.6 867.7,322.6 867.8,319.7 867.8,317.0 867.9,314.4 868.0,311.9 868.0,309.7 868.1,307.5 868.2,305.6 868.2,303.8 868.3,302.1 868.4,300.6 868.5,299.3 868.5,298.2 868.6,297.2 868.7,296.4 868.8,295.8 868.8,295.4 868.9,295.1 869.0,295.0 869.1,295.1 869.2,295.4 869.4,295.8 869.5,296.4 869.6,297.2 869.7,298.2 869.9,299.4 870.0,300.7 870.1,302.2 870.2,303.8 870.3,305.7 870.4,307.7 870.5,309.8 870.6,312.1 870.7,314.5 870.8,317.1 870.9,319.9 871.0,322.7 871.1,325.8 871.2,328.9 871.3,332.1 871.4,335.5 871.4,339.0 871.5,342.6 871.6,346.3 871.6,350.0 871.7,353.9 871.7,357.8 871.8,361.8 871.8,365.9 871.9,370.0 871.9,374.2 871.9,378.5 872.0,382.7 872.0,387.0 872.0,391.3 872.0,395.7 872.0,400.0 872.0,395.5 872.0,391.0 872.0,386.6 872.0,382.1 872.1,377.7 872.1,373.4 872.1,369.1 872.1,364.9 872.2,360.7 872.2,356.6 872.2,352.6 872.3,348.7 872.3,344.9 872.4,341.2 872.4,337.7 872.5,334.2 872.6,330.9 872.6,327.7 872.7,324.7 872.8,321.8 872.8,319.1 872.9,316.5 873.0,314.2 873.1,311.9 873.1,309.9 873.2,308.0 873.3,306.4 873.4,304.9 873.5,303.6 873.6,302.5 873.6,301.6 873.7,300.9 873.8,300.4 873.9,300.1 874.0,300.0 874.1,300.1 874.3,300.4 874.4,300.8 874.5,301.5 874.7,302.3 874.8,303.3 874.9,304.5 875.1,305.9 875.2,307.5 875.3,309.2 875.4,311.1 875.5,313.1 875.7,315.4 875.8,317.8 875.9,320.3 876.0,323.0 876.1,325.9 876.2,328.9 876.3,332.0 876.4,335.3 876.5,338.7 876.6,342.3 876.7,345.9 876.8,349.7 876.8,353.6 876.9,357.6 877.0,361.7 877.0,365.8 877.1,370.1 877.1,374.4 877.2,378.9 877.2,383.3 877.3,387.9 877.3,392.4 877.3,397.1 877.4,401.7 877.4,406.4 877.4,411.1 877.4,415.9 877.4,420.6 877.4,416.1 877.4,411.5 877.4,407.0 877.4,402.5 877.4,398.0 877.5,393.6 877.5,389.2 877.5,384.9 877.5,380.6 877.6,376.4 877.6,372.2 877.6,368.1 877.7,364.1 877.7,360.2 877.8,356.4 877.8,352.7 877.9,349.0 877.9,345.5 878.0,342.1 878.0,338.9 878.1,335.7 878.1,332.7 878.2,329.8 878.3,327.1 878.3,324.5 878.4,322.0 878.5,319.7 878.5,317.6 878.6,315.6 878.7,313.8 878.8,312.1 878.9,310.7 878.9,309.3 879.0,308.2 879.1,307.2 879.2,306.4 879.3,305.8 879.3,305.4 879.4,305.1 879.5,305.0 879.6,305.1 879.7,305.4 879.9,306.0 880.0,306.7 880.1,307.7 880.2,308.8 880.3,310.2 880.4,311.8 880.5,313.6 880.6,315.6 880.8,317.7 880.9,320.1 881.0,322.6 881.0,325.3 881.1,328.2 881.2,331.2 881.3,334.4 881.4,337.8 881.5,341.3 881.5,344.9 881.6,348.6 881.7,352.5 881.7,356.5 881.8,360.5 881.8,364.7 881.9,368.9 881.9,373.2 881.9,377.6 882.0,382.0 882.0,386.5 882.0,391.0 882.0,395.5 882.0,400.0 882.0,395.4 882.0,390.9 882.0,386.4 882.0,381.9 882.0,377.4 882.1,373.1 882.1,368.7 882.1,364.5 882.2,360.4 882.2,356.3 882.2,352.4 882.3,348.6 882.3,344.9 882.4,341.4 882.4,338.0 882.5,334.8 882.5,331.7 882.6,328.8 882.6,326.1 882.7,323.6 882.8,321.3 882.8,319.2 882.9,317.3 883.0,315.6 883.1,314.1 883.1,312.9 883.2,311.8 883.3,311.0 883.3,310.5 883.4,310.1 883.5,310.0 883.6,310.1 883.7,310.4 883.8,310.8 883.9,311.5 884.0,312.3 884.0,313.4 884.1,314.6 884.2,315.9 884.3,317.5 884.4,319.2 884.5,321.1 884.5,323.2 884.6,325.5 884.7,327.9 884.8,330.4 884.9,333.1 884.9,336.0 885.0,339.0 885.1,342.1 885.1,345.4 885.2,348.8 885.2,352.3 885.3,356.0 885.3,359.7 885.4,363.5 885.4,367.5 885.5,371.5 885.5,375.6 885.5,379.8 885.6,384.1 885.6,388.4 885.6,392.8 885.7,397.2 885.7,401.6 885.7,406.1 885.7,410.6 885.7,415.2 885.7,419.7 885.7,415.1 885.7,410.5 885.7,405.9 885.7,401.4 885.7,396.9 885.8,392.4 885.8,388.0 885.8,383.7 885.9,379.4 885.9,375.3 885.9,371.2 886.0,367.2 886.0,363.4 886.1,359.6 886.1,356.0 886.2,352.5 886.2,349.2 886.3,346.0 886.4,343.0 886.4,340.1 886.5,337.4 886.6,334.9 886.6,332.6 886.7,330.5 886.8,328.5 886.8,326.7 886.9,325.2 887.0,323.8 887.1,322.6 887.2,321.7 887.3,321.0 887.3,320.4 887.4,320.1 887.5,320.0 887.6,320.1 887.7,320.5 887.8,321.1 887.9,322.0 888.1,323.1 888.2,324.5 888.3,326.1 888.4,327.9 888.5,330.0 888.6,332.3 888.7,334.8 888.7,337.5 888.8,340.3 888.9,343.4 889.0,346.7 889.1,350.1 889.1,353.7 889.2,357.4 889.3,361.3 889.3,365.3 889.3,369.4 889.4,373.6 889.4,377.9 889.4,382.2 889.5,386.6 889.5,391.0 889.5,395.5 889.5,400.0 889.5,395.4 889.5,390.9 889.5,386.3 889.5,381.9 889.6,377.5 889.6,373.2 889.6,369.0 889.6,365.0 889.7,361.1 889.7,357.4 889.7,353.8 889.8,350.5 889.8,347.4 889.9,344.5 889.9,341.8 890.0,339.4 890.1,337.2 890.1,335.3 890.2,333.7 890.2,332.4 890.3,331.3 890.4,330.6 890.4,330.1 890.5,330.0 890.6,330.2 890.7,330.7 890.7,331.6 890.8,332.8 890.9,334.4 891.0,336.3 891.0,338.5 891.1,341.1 891.1,343.9 891.2,347.0 891.3,350.3 891.3,353.9 891.4,357.7 891.4,361.7 891.4,365.8 891.5,370.1 891.5,374.5 891.5,378.9 891.5,383.4 891.5,388.0 891.5,383.6 891.5,379.2 891.6,374.9 891.6,370.7 891.7,366.6 891.7,362.7 891.8,359.1 891.9,355.7 892.0,352.5 892.1,349.7 892.2,347.2 892.3,345.0 892.5,343.2 892.6,341.8 892.7,340.8 892.9,340.2 893.0,340.0 893.2,340.1 893.3,340.6 893.5,341.3 893.7,342.3 893.8,343.6 894.0,345.2 894.1,347.0 894.3,349.1 894.4,351.5 894.6,354.1 894.7,356.9 894.8,359.9 895.0,363.2 895.1,366.6 895.2,370.2 895.3,374.0 895.3,377.9 895.4,382.0 895.5,386.1 895.5,390.4 895.6,394.7 895.6,399.1 895.6,403.6 895.6,408.0 895.6,403.4 895.6,398.8 895.6,394.3 895.6,389.7 895.6,385.2 895.6,380.8 895.7,376.4 895.7,372.0 895.7,367.7 895.7,363.5 895.7,359.4 895.8,355.3 895.8,351.4 895.8,347.5 895.8,343.8 895.9,340.2 895.9,336.6 895.9,333.3 896.0,330.0 896.0,326.9 896.0,324.0 896.1,321.2 896.1,318.5 896.2,316.0 896.2,313.7 896.3,311.6 896.3,309.6 896.4,307.8 896.4,306.2 896.4,304.7 896.5,303.5 896.5,302.4 896.6,301.6 896.6,300.9 896.7,300.4 896.7,300.1 896.8,300.0 896.5,283.0 896.7,279.0 896.9,275.1 897.1,271.1 897.3,267.1 897.5,263.1 897.7,259.2 897.9,255.2 898.1,251.2 898.4,247.2 898.7,243.3 899.0,239.3 899.4,235.3 899.8,231.3 900.3,227.4 900.8,223.4 901.4,219.4 902.1,215.4 902.8,211.5 903.6,207.5 904.5,203.5 905.5,199.5 906.6,195.6 907.7,191.6 908.9,187.6 910.2,183.6 911.6,179.7 913.1,175.7 914.7,171.7 916.3,167.7 918.1,163.8 920.0,159.8 921.9,155.8 923.9,151.8 926.1,147.9 928.3,143.9 930.6,139.9 932.9,135.9 935.4,132.0 937.9,128.0" stroke="#1e1ef0" stroke-width="3.3" stroke-dasharray="7 5.3"/>
<path d="M99.0,133.2L100.8,134.0 101.4,134.6 101.9,135.2 103.1,136.2 105.3,137.7 109.1,139.8 114.1,142.4 119.5,145.2 124.8,148.1 129.8,151.0 134.8,154.0 139.9,157.1 145.2,160.3 150.8,163.7 156.6,167.3 162.3,170.8 167.7,174.0 172.6,176.8 177.1,179.3 181.6,181.8 186.3,184.4 191.3,187.2 196.5,190.1 201.8,193.0 207.2,195.8 212.7,198.5 218.2,201.1 223.9,203.7 229.5,206.3 235.1,208.9 240.8,211.5 246.5,214.0 252.2,216.3 258.0,218.3 264.0,220.0 269.9,221.7 275.8,223.5 281.6,225.4 287.5,227.3 293.2,229.4 298.9,231.7 304.4,234.3 309.7,237.2 315.0,240.2 320.4,243.1 325.8,246.0 331.3,248.9 336.7,251.8 342.2,254.4 347.7,256.6 353.1,258.4 358.6,260.3 363.9,262.6 369.0,265.4 374.0,268.4 379.0,271.6 384.1,274.9 389.4,278.2 394.8,281.5 400.2,284.9 405.4,288.5 410.6,292.5 415.9,296.9 420.6,300.9 424.3,303.9 429.5,306.9 433.0,312.0 433.1,312.1 433.1,312.5 433.2,313.2 433.2,314.2 433.3,315.4 433.3,316.8 433.4,318.6 433.4,320.6 433.4,322.8 433.5,325.3 433.5,328.1 433.6,331.1 433.6,334.3 433.7,337.8 433.7,341.5 433.8,345.4 433.8,349.6 433.8,353.9 433.9,358.5 433.9,363.3 434.0,368.2 434.0,373.3 434.0,378.7 434.1,384.1 434.1,389.8 434.1,395.6 434.1,401.5 434.2,407.6 434.2,413.7 434.2,420.0 434.2,426.4 434.2,432.9 434.3,439.5 434.3,446.1 434.3,452.9 434.3,459.6 434.3,466.4 434.3,473.3 434.3,480.1 434.3,487.0 434.3,480.3 434.3,473.6 434.3,466.9 434.3,460.2 434.3,453.6 434.3,447.0 434.4,440.5 434.4,434.1 434.4,427.7 434.4,421.5 434.4,415.3 434.5,409.3 434.5,403.3 434.5,397.5 434.6,391.9 434.6,386.4 434.6,381.0 434.7,375.8 434.7,370.8 434.7,365.9 434.8,361.3 434.8,356.8 434.9,352.6 434.9,348.5 435.0,344.7 435.0,341.0 435.1,337.6 435.1,334.5 435.2,331.5 435.2,328.8 435.3,326.4 435.3,324.2 435.4,322.2 435.4,320.5 435.5,319.1 435.6,317.9 435.6,317.0 435.7,316.3 435.7,315.9 435.8,315.8 441.6,319.1 443.3,322.0 445.1,325.8 446.8,329.8 448.3,333.3 452.5,343.3 455.8,358.2 456.0,358.3 456.2,358.5 456.4,359.0 456.7,359.6 456.9,360.3 457.1,361.3 457.3,362.4 457.5,363.7 457.7,365.1 457.9,366.7 458.1,368.5 458.3,370.4 458.5,372.5 458.7,374.7 458.9,377.0 459.0,379.6 459.2,382.2 459.4,385.0 459.5,387.9 459.7,390.9 459.8,394.1 460.0,397.4 460.1,400.8 460.2,404.3 460.4,407.9 460.5,411.6 460.6,415.4 460.7,419.2 460.8,423.2 460.9,427.2 461.0,431.3 461.0,435.5 461.1,439.7 461.1,443.9 461.2,448.2 461.2,452.5 461.3,456.9 461.3,461.2 461.3,465.6 461.3,470.0 461.3,466.3 461.3,462.7 461.4,459.0 461.4,455.4 461.5,451.8 461.6,448.3 461.7,444.8 461.9,441.3 462.0,437.9 462.2,434.6 462.3,431.3 462.5,428.1 462.7,425.0 463.0,422.0 463.2,419.1 463.4,416.2 463.7,413.5 464.0,410.9 464.3,408.5 464.6,406.1 464.9,403.9 465.2,401.8 465.5,399.9 465.9,398.1 466.2,396.4 466.6,394.9 466.9,393.5 467.3,392.3 467.7,391.2 468.1,390.3 468.4,389.6 468.8,389.0 469.2,388.6 469.6,388.4 470.0,388.3 470.5,388.4 470.9,388.7 471.4,389.2 471.8,389.9 472.3,390.8 472.7,391.9 473.1,393.2 473.6,394.6 474.0,396.3 474.4,398.1 474.9,400.2 475.3,402.4 475.7,404.8 476.1,407.3 476.4,410.1 476.8,413.0 477.2,416.0 477.5,419.3 477.9,422.6 478.2,426.1 478.5,429.8 478.8,433.6 479.1,437.5 479.4,441.6 479.6,445.7 479.9,450.0 480.1,454.4 480.3,458.8 480.5,463.4 480.7,468.1 480.9,472.8 481.0,477.6 481.2,482.4 481.3,487.3 481.4,492.3 481.5,497.3 481.5,502.3 481.6,507.4 481.6,512.4 481.6,517.5 481.6,512.3 481.6,507.2 481.7,502.1 481.7,497.0 481.8,491.9 481.9,486.9 482.0,481.9 482.1,477.0 482.2,472.1 482.4,467.3 482.6,462.6 482.7,457.9 482.9,453.4 483.1,448.9 483.4,444.6 483.6,440.4 483.8,436.3 484.1,432.3 484.4,428.4 484.6,424.7 484.9,421.2 485.2,417.7 485.6,414.5 485.9,411.4 486.2,408.4 486.6,405.6 486.9,403.0 487.3,400.6 487.6,398.4 488.0,396.3 488.4,394.4 488.8,392.7 489.2,391.2 489.6,389.9 490.0,388.8 490.4,387.9 490.8,387.2 491.2,386.7 491.6,386.4 492.0,386.3 492.3,386.4 492.6,386.7 492.9,387.1 493.2,387.8 493.5,388.6 493.8,389.7 494.1,390.9 494.3,392.3 494.6,393.8 494.9,395.6 495.2,397.5 495.5,399.6 495.7,401.8 496.0,404.2 496.2,406.8 496.5,409.5 496.7,412.4 496.9,415.5 497.2,418.6 497.4,421.9 497.6,425.4 497.8,429.0 498.0,432.7 498.1,436.5 498.3,440.4 498.5,444.4 498.6,448.5 498.8,452.7 498.9,457.0 499.0,461.4 499.1,465.9 499.2,470.4 499.3,475.0 499.4,479.6 499.5,484.3 499.5,489.0 499.5,493.7 499.6,498.5 499.6,503.2 499.6,508.0 499.6,502.6 499.6,497.3 499.7,491.9 499.7,486.6 499.8,481.3 499.9,476.0 500.0,470.8 500.1,465.7 500.2,460.6 500.3,455.6 500.5,450.6 500.6,445.8 500.8,441.1 501.0,436.4 501.2,431.9 501.4,427.5 501.6,423.2 501.9,419.0 502.1,415.0 502.4,411.1 502.6,407.4 502.9,403.8 503.2,400.4 503.5,397.2 503.8,394.1 504.1,391.2 504.4,388.5 504.7,385.9 505.1,383.6 505.4,381.4 505.7,379.5 506.1,377.7 506.4,376.1 506.8,374.8 507.2,373.6 507.5,372.7 507.9,371.9 508.3,371.4 508.6,371.1 509.0,371.0 509.4,371.1 509.8,371.3 510.2,371.7 510.6,372.3 511.0,373.1 511.3,374.0 511.7,375.0 512.1,376.2 512.5,377.6 512.8,379.1 513.2,380.8 513.5,382.7 513.9,384.6 514.2,386.8 514.6,389.0 514.9,391.4 515.2,394.0 515.5,396.6 515.8,399.4 516.1,402.3 516.3,405.4 516.6,408.5 516.9,411.8 517.1,415.1 517.3,418.6 517.5,422.1 517.7,425.7 517.9,429.4 518.1,433.2 518.2,437.1 518.4,441.0 518.5,444.9 518.6,449.0 518.7,453.0 518.8,457.1 518.9,461.3 518.9,465.4 519.0,469.6 519.0,473.8 519.0,478.0 519.0,472.8 519.0,467.5 519.1,462.3 519.1,457.1 519.2,451.9 519.3,446.8 519.5,441.7 519.6,436.7 519.7,431.7 519.9,426.8 520.1,422.0 520.3,417.3 520.5,412.7 520.8,408.1 521.0,403.7 521.3,399.4 521.6,395.2 521.9,391.2 522.2,387.2 522.5,383.5 522.9,379.8 523.2,376.3 523.6,373.0 523.9,369.8 524.3,366.8 524.7,364.0 525.1,361.3 525.6,358.9 526.0,356.6 526.4,354.5 526.8,352.6 527.3,350.8 527.7,349.3 528.2,348.0 528.7,346.9 529.1,345.9 529.6,345.2 530.1,344.7 530.5,344.4 531.0,344.3 531.4,344.4 531.8,344.8 532.3,345.4 532.7,346.2 533.1,347.3 533.5,348.5 533.9,350.1 534.3,351.8 534.7,353.8 535.1,356.0 535.5,358.4 535.9,361.1 536.2,363.9 536.6,366.9 536.9,370.2 537.3,373.7 537.6,377.3 537.9,381.1 538.3,385.1 538.6,389.3 538.9,393.7 539.1,398.2 539.4,402.8 539.7,407.7 539.9,412.6 540.1,417.7 540.3,422.9 540.5,428.2 540.7,433.7 540.9,439.2 541.0,444.8 541.2,450.5 541.3,456.3 541.4,462.1 541.5,468.0 541.6,474.0 541.6,479.9 541.7,485.9 541.7,492.0 541.7,498.0 541.7,491.6 541.7,485.3 541.8,479.0 541.8,472.7 541.9,466.4 542.0,460.2 542.1,454.1 542.2,448.0 542.3,442.0 542.5,436.0 542.7,430.2 542.8,424.5 543.0,418.9 543.2,413.4 543.5,408.1 543.7,402.8 543.9,397.8 544.2,392.9 544.5,388.1 544.7,383.5 545.0,379.1 545.3,374.9 545.7,370.9 546.0,367.0 546.3,363.4 546.7,360.0 547.0,356.7 547.4,353.7 547.7,351.0 548.1,348.4 548.5,346.1 548.9,344.0 549.3,342.2 549.7,340.6 550.1,339.2 550.5,338.1 550.9,337.2 551.3,336.6 551.7,336.2 552.1,336.1 552.4,336.2 552.6,336.5 552.9,337.0 553.1,337.8 553.4,338.7 553.6,339.8 553.9,341.2 554.1,342.7 554.4,344.5 554.6,346.4 554.9,348.6 555.1,350.9 555.3,353.4 555.5,356.1 555.8,359.0 556.0,362.0 556.2,365.2 556.4,368.6 556.6,372.1 556.8,375.8 556.9,379.7 557.1,383.6 557.3,387.8 557.4,392.0 557.6,396.4 557.7,400.8 557.9,405.4 558.0,410.1 558.1,414.9 558.2,419.8 558.3,424.8 558.4,429.8 558.5,434.9 558.5,440.0 558.6,445.2 558.6,450.5 558.7,455.8 558.7,461.1 558.7,466.4 558.7,471.7 558.7,466.3 558.7,461.0 558.8,455.6 558.8,450.3 558.8,445.0 558.9,439.8 559.0,434.6 559.1,429.5 559.2,424.4 559.3,419.4 559.4,414.5 559.5,409.6 559.6,404.9 559.8,400.3 559.9,395.8 560.1,391.3 560.3,387.1 560.4,382.9 560.6,378.9 560.8,375.0 561.0,371.3 561.3,367.8 561.5,364.3 561.7,361.1 561.9,358.0 562.2,355.1 562.4,352.4 562.7,349.9 562.9,347.6 563.2,345.4 563.5,343.4 563.7,341.7 564.0,340.1 564.3,338.8 564.6,337.6 564.9,336.7 565.1,335.9 565.4,335.4 565.7,335.1 566.0,335.0 569.0,326.6 570.8,319.0 572.7,314.3 573.6,312.4 574.6,310.1 575.8,307.7 577.2,305.3 579.0,302.9 581.0,300.4 583.2,297.9 585.4,295.8 587.5,294.1 589.7,292.6 591.9,291.3 594.4,289.9 597.2,288.3 600.2,286.7 603.3,285.1 606.2,283.6 608.8,282.3 611.2,281.2 613.6,280.2 616.2,279.0 619.3,277.6 622.6,276.2 625.9,274.8 628.8,273.6 631.1,272.8 633.0,272.1 634.9,271.6 637.3,270.8 640.3,269.8 643.6,268.7 647.3,267.5 651.3,266.3 655.8,265.1 660.8,263.9 665.8,262.8 670.3,261.8 674.1,260.9 677.5,260.2 680.8,259.6 683.9,259.0 686.9,258.5 689.7,258.2 692.6,257.9 695.7,257.7 699.4,257.7 703.4,257.8 707.2,257.9 710.2,258.1 712.0,258.3 713.1,258.5 713.9,258.7 715.0,259.0 716.6,259.3 718.4,259.6 720.1,260.0 721.7,260.4 723.0,260.8 724.0,261.3 725.0,261.8 726.0,262.5 730.0,266.5 730.6,267.0 731.2,268.4 731.8,270.7 732.2,273.8 732.4,277.2 732.5,281.0 732.6,278.1 732.8,275.4 733.2,272.9 733.6,270.8 734.2,269.3 734.8,268.3 735.5,268.0 735.6,268.1 735.7,268.6 735.8,269.3 735.9,270.3 736.1,271.6 736.2,273.2 736.3,275.0 736.4,277.2 736.5,279.5 736.6,282.1 736.6,285.0 736.7,288.1 736.8,291.3 736.9,294.8 737.0,298.5 737.0,302.3 737.1,306.4 737.1,310.5 737.2,314.8 737.2,319.1 737.2,323.6 737.3,328.1 737.3,332.7 737.3,337.4 737.3,342.0 737.3,337.7 737.3,333.5 737.4,329.3 737.4,325.2 737.5,321.3 737.6,317.5 737.7,313.9 737.8,310.5 737.9,307.4 738.1,304.5 738.2,301.9 738.4,299.6 738.6,297.6 738.7,296.0 738.9,294.7 739.1,293.7 739.3,293.2 739.5,293.0 739.8,293.2 740.1,293.7 740.3,294.6 740.6,295.9 740.8,297.5 741.1,299.4 741.3,301.7 741.5,304.2 741.7,307.0 741.9,310.1 742.1,313.4 742.2,316.8 742.3,320.5 742.4,324.2 742.4,328.1 742.5,332.0 742.5,336.0 742.5,332.0 742.6,328.0 742.7,324.1 742.8,320.5 742.9,317.1 743.1,314.1 743.3,311.4 743.5,309.2 743.7,307.4 744.0,306.1 744.2,305.3 744.5,305.0 744.8,305.2 745.2,305.8 745.5,306.7 745.8,308.0 746.1,309.7 746.4,311.7 746.7,314.1 747.0,316.7 747.2,319.6 747.4,322.8 747.6,326.1 747.7,329.7 747.8,333.4 747.9,337.2 748.0,341.1 748.0,345.0 748.0,340.8 748.1,336.7 748.2,332.7 748.3,329.1 748.4,325.9 748.6,323.2 748.8,320.9 749.0,319.3 749.3,318.3 749.5,318.0 749.7,318.1 749.9,318.4 750.1,318.9 750.3,319.7 750.5,320.6 750.7,321.7 750.9,323.1 751.1,324.6 751.3,326.3 751.5,328.3 751.7,330.4 751.8,332.6 752.0,335.1 752.2,337.7 752.3,340.5 752.5,343.4 752.6,346.4 752.7,349.7 752.9,353.0 753.0,356.4 753.1,360.0 753.2,363.7 753.3,367.4 753.3,371.3 753.4,375.2 753.5,379.1 753.5,383.2 753.6,387.2 753.6,391.3 753.6,395.5 753.6,399.6 753.6,395.3 753.6,390.9 753.7,386.6 753.7,382.4 753.7,378.2 753.8,374.1 753.9,370.1 754.0,366.1 754.1,362.3 754.2,358.6 754.3,355.1 754.4,351.6 754.5,348.4 754.7,345.3 754.8,342.5 755.0,339.8 755.1,337.3 755.3,335.0 755.5,332.9 755.7,331.1 755.8,329.5 756.0,328.1 756.2,327.0 756.4,326.1 756.6,325.5 756.8,325.1 757.0,325.0 757.3,325.2 757.7,325.9 758.0,327.0 758.3,328.5 758.6,330.4 758.9,332.6 759.1,335.3 759.3,338.2 759.5,341.4 759.7,344.8 759.8,348.4 759.9,352.2 760.0,356.1 760.0,360.0 760.0,355.9 760.0,351.8 760.1,347.8 760.2,343.9 760.2,340.2 760.3,336.7 760.5,333.4 760.6,330.3 760.7,327.5 760.9,325.1 761.1,323.0 761.2,321.2 761.4,319.8 761.6,318.8 761.8,318.2 762.0,318.0 762.1,318.1 762.3,318.4 762.4,318.9 762.5,319.7 762.7,320.6 762.8,321.7 762.9,323.1 763.0,324.6 763.2,326.3 763.3,328.2 763.4,330.3 763.5,332.6 763.6,335.1 763.7,337.7 763.9,340.5 764.0,343.4 764.1,346.6 764.1,349.8 764.2,353.2 764.3,356.7 764.4,360.4 764.5,364.2 764.5,368.1 764.6,372.0 764.7,376.1 764.7,380.3 764.7,384.5 764.8,388.8 764.8,393.2 764.9,397.6 764.9,402.0 764.9,406.5 764.9,411.0 764.9,415.5 764.9,411.1 764.9,406.7 764.9,402.4 764.9,398.0 765.0,393.7 765.0,389.5 765.0,385.3 765.1,381.1 765.1,377.0 765.2,373.0 765.3,369.1 765.3,365.2 765.4,361.5 765.5,357.9 765.5,354.3 765.6,350.9 765.7,347.6 765.8,344.4 765.9,341.4 766.0,338.5 766.1,335.8 766.2,333.2 766.3,330.7 766.4,328.5 766.6,326.4 766.7,324.4 766.8,322.7 766.9,321.1 767.1,319.7 767.2,318.4 767.3,317.4 767.5,316.5 767.6,315.9 767.7,315.4 767.9,315.1 768.0,315.0 768.3,315.1 768.5,315.5 768.7,316.2 769.0,317.0 769.2,318.2 769.5,319.6 769.7,321.2 769.9,323.0 770.1,325.1 770.4,327.4 770.5,329.9 770.7,332.6 770.9,335.5 771.1,338.6 771.2,341.8 771.4,345.2 771.5,348.7 771.6,352.3 771.7,356.1 771.8,359.9 771.9,363.8 771.9,367.8 772.0,371.9 772.0,375.9 772.0,380.0 772.0,375.9 772.0,371.9 772.1,367.8 772.1,363.9 772.2,359.9 772.2,356.1 772.3,352.3 772.4,348.6 772.5,345.0 772.7,341.5 772.8,338.2 772.9,335.0 773.1,332.0 773.3,329.1 773.4,326.4 773.6,323.9 773.8,321.5 774.0,319.4 774.2,317.4 774.4,315.7 774.6,314.2 774.9,312.9 775.1,311.9 775.3,311.1 775.5,310.5 775.8,310.1 776.0,310.0 776.2,310.1 776.4,310.4 776.7,310.9 776.9,311.6 777.1,312.5 777.3,313.6 777.5,314.9 777.8,316.4 778.0,318.0 778.2,319.9 778.4,321.9 778.6,324.2 778.8,326.6 779.0,329.2 779.2,331.9 779.4,334.8 779.5,337.9 779.7,341.1 779.9,344.5 780.0,348.1 780.2,351.8 780.3,355.6 780.5,359.5 780.6,363.6 780.7,367.8 780.9,372.1 781.0,376.5 781.1,381.0 781.2,385.6 781.3,390.3 781.3,395.0 781.4,399.8 781.5,404.7 781.5,409.7 781.6,414.6 781.6,419.7 781.7,424.7 781.7,429.8 781.7,434.9 781.7,440.0 781.7,434.6 781.7,429.2 781.7,423.8 781.7,418.4 781.7,413.1 781.7,407.8 781.8,402.5 781.8,397.4 781.8,392.2 781.8,387.2 781.9,382.2 781.9,377.3 781.9,372.6 782.0,367.9 782.0,363.3 782.0,358.9 782.1,354.6 782.1,350.4 782.2,346.3 782.2,342.4 782.3,338.7 782.3,335.1 782.4,331.6 782.4,328.4 782.5,325.3 782.6,322.3 782.6,319.6 782.7,317.0 782.7,314.7 782.8,312.5 782.9,310.5 782.9,308.8 783.0,307.2 783.1,305.8 783.1,304.7 783.2,303.7 783.3,303.0 783.4,302.4 783.4,302.1 783.5,302.0 783.6,302.1 783.7,302.5 783.9,303.1 784.0,304.0 784.1,305.1 784.2,306.5 784.3,308.1 784.5,310.0 784.6,312.1 784.7,314.5 784.8,317.0 784.9,319.8 785.0,322.9 785.1,326.1 785.2,329.6 785.3,333.3 785.4,337.1 785.5,341.2 785.6,345.5 785.7,349.9 785.8,354.6 785.9,359.4 785.9,364.4 786.0,369.5 786.1,374.8 786.1,380.2 786.2,385.7 786.3,391.4 786.3,397.2 786.4,403.1 786.4,409.0 786.4,415.1 786.5,421.3 786.5,427.5 786.5,433.8 786.6,440.1 786.6,446.5 786.6,452.9 786.6,459.3 786.6,465.7 786.6,459.2 786.6,452.7 786.6,446.2 786.6,439.8 786.6,433.4 786.7,427.0 786.7,420.7 786.7,414.5 786.7,408.3 786.8,402.3 786.8,396.3 786.9,390.5 786.9,384.7 787.0,379.1 787.0,373.6 787.1,368.3 787.1,363.1 787.2,358.1 787.2,353.2 787.3,348.5 787.4,344.0 787.4,339.7 787.5,335.6 787.6,331.6 787.7,327.9 787.7,324.4 787.8,321.1 787.9,318.1 788.0,315.2 788.1,312.6 788.2,310.2 788.3,308.1 788.3,306.2 788.4,304.6 788.5,303.2 788.6,302.0 788.7,301.1 788.8,300.5 788.9,300.1 789.0,300.0 789.2,300.1 789.4,300.4 789.6,301.0 789.8,301.7 790.0,302.7 790.2,303.9 790.4,305.3 790.6,306.9 790.8,308.7 791.0,310.7 791.2,312.9 791.4,315.3 791.5,317.8 791.7,320.5 791.8,323.4 792.0,326.5 792.1,329.7 792.2,333.0 792.4,336.4 792.5,340.0 792.6,343.7 792.7,347.5 792.7,351.3 792.8,355.3 792.9,359.3 792.9,363.4 793.0,367.5 793.0,371.6 793.0,375.8 793.0,380.0 793.0,375.5 793.0,371.0 793.0,366.5 793.1,362.1 793.1,357.7 793.1,353.4 793.2,349.2 793.2,345.0 793.3,341.0 793.3,337.0 793.4,333.2 793.5,329.5 793.6,325.9 793.6,322.5 793.7,319.2 793.8,316.1 793.9,313.2 794.0,310.4 794.1,307.9 794.2,305.5 794.4,303.4 794.5,301.4 794.6,299.7 794.7,298.2 794.9,296.9 795.0,295.9 795.1,295.1 795.2,294.5 795.4,294.1 795.5,294.0 795.6,294.1 795.7,294.4 795.9,294.9 796.0,295.6 796.1,296.5 796.2,297.5 796.3,298.8 796.5,300.3 796.6,301.9 796.7,303.7 796.8,305.8 796.9,307.9 797.0,310.3 797.1,312.8 797.2,315.5 797.3,318.3 797.4,321.3 797.5,324.5 797.6,327.7 797.6,331.2 797.7,334.7 797.8,338.3 797.9,342.1 797.9,346.0 798.0,350.0 798.0,354.0 798.1,358.2 798.1,362.4 798.2,366.7 798.2,371.1 798.2,375.5 798.3,379.9 798.3,384.4 798.3,388.9 798.3,393.5 798.3,398.0 798.3,393.6 798.3,389.2 798.3,384.8 798.3,380.4 798.4,376.0 798.4,371.7 798.4,367.5 798.5,363.3 798.5,359.1 798.6,355.0 798.6,351.0 798.7,347.1 798.8,343.2 798.8,339.5 798.9,335.8 799.0,332.3 799.1,328.8 799.1,325.5 799.2,322.3 799.3,319.3 799.4,316.4 799.5,313.6 799.6,310.9 799.7,308.4 799.9,306.1 800.0,303.9 800.1,301.9 800.2,300.0 800.3,298.3 800.5,296.8 800.6,295.4 800.7,294.3 800.8,293.3 801.0,292.5 801.1,291.8 801.2,291.4 801.4,291.1 801.5,291.0 801.7,291.1 801.9,291.5 802.1,292.0 802.3,292.8 802.4,293.9 802.6,295.1 802.8,296.6 803.0,298.3 803.1,300.2 803.3,302.3 803.5,304.6 803.6,307.1 803.8,309.8 803.9,312.6 804.0,315.7 804.2,318.9 804.3,322.2 804.4,325.7 804.5,329.3 804.6,333.0 804.7,336.8 804.8,340.8 804.8,344.8 804.9,348.9 804.9,353.0 805.0,357.2 805.0,361.5 805.0,365.7 805.0,370.0 805.0,365.5 805.0,361.0 805.0,356.6 805.0,352.2 805.1,347.8 805.1,343.5 805.1,339.3 805.2,335.1 805.2,331.1 805.3,327.2 805.3,323.4 805.4,319.8 805.5,316.3 805.5,312.9 805.6,309.7 805.7,306.7 805.8,303.9 805.9,301.3 806.0,298.9 806.1,296.7 806.2,294.7 806.3,292.9 806.4,291.3 806.5,290.0 806.6,288.9 806.7,288.1 806.8,287.5 806.9,287.1 807.0,287.0 807.2,287.1 807.4,287.4 807.6,287.9 807.8,288.5 808.0,289.4 808.2,290.4 808.4,291.6 808.5,293.0 808.7,294.6 808.9,296.4 809.1,298.3 809.3,300.4 809.4,302.7 809.6,305.1 809.8,307.7 809.9,310.5 810.1,313.4 810.2,316.5 810.4,319.7 810.5,323.0 810.7,326.5 810.8,330.1 810.9,333.9 811.0,337.7 811.2,341.7 811.3,345.7 811.4,349.9 811.5,354.2 811.5,358.5 811.6,362.9 811.7,367.4 811.8,372.0 811.8,376.6 811.9,381.3 811.9,386.0 811.9,390.8 812.0,395.5 812.0,400.3 812.0,405.2 812.0,410.0 812.0,405.1 812.0,400.2 812.0,395.3 812.0,390.4 812.0,385.6 812.1,380.8 812.1,376.1 812.1,371.4 812.1,366.7 812.2,362.2 812.2,357.7 812.2,353.3 812.3,348.9 812.3,344.7 812.3,340.6 812.4,336.5 812.4,332.6 812.5,328.8 812.5,325.1 812.6,321.6 812.6,318.2 812.7,314.9 812.8,311.8 812.8,308.9 812.9,306.1 813.0,303.4 813.0,300.9 813.1,298.6 813.2,296.5 813.2,294.5 813.3,292.7 813.4,291.1 813.5,289.7 813.5,288.5 813.6,287.4 813.7,286.5 813.8,285.9 813.8,285.4 813.9,285.1 814.0,285.0 814.1,285.1 814.3,285.5 814.4,286.1 814.5,286.9 814.7,287.9 814.8,289.2 814.9,290.8 815.1,292.5 815.2,294.5 815.3,296.7 815.4,299.1 815.5,301.7 815.7,304.5 815.8,307.6 815.9,310.8 816.0,314.3 816.1,317.9 816.2,321.7 816.3,325.7 816.4,329.9 816.5,334.2 816.6,338.7 816.7,343.4 816.8,348.2 816.8,353.1 816.9,358.2 817.0,363.3 817.0,368.6 817.1,374.1 817.1,379.6 817.2,385.2 817.2,390.9 817.3,396.6 817.3,402.4 817.3,408.3 817.4,414.2 817.4,420.2 817.4,426.2 817.4,432.2 817.4,438.2 817.4,432.1 817.4,426.0 817.4,420.0 817.4,413.9 817.4,407.9 817.5,402.0 817.5,396.1 817.5,390.2 817.6,384.5 817.6,378.8 817.6,373.2 817.7,367.7 817.7,362.4 817.8,357.1 817.8,352.0 817.9,347.0 818.0,342.1 818.0,337.4 818.1,332.9 818.2,328.5 818.2,324.2 818.3,320.2 818.4,316.3 818.5,312.6 818.6,309.2 818.6,305.9 818.7,302.8 818.8,299.9 818.9,297.3 819.0,294.8 819.1,292.6 819.2,290.6 819.3,288.8 819.4,287.3 819.5,286.0 819.6,284.9 819.7,284.1 819.8,283.5 819.9,283.1 820.0,283.0 820.2,283.1 820.5,283.3 820.7,283.7 821.0,284.3 821.2,285.1 821.5,286.0 821.7,287.0 821.9,288.3 822.2,289.6 822.4,291.2 822.6,292.9 822.9,294.7 823.1,296.7 823.3,298.8 823.5,301.1 823.7,303.5 823.9,306.0 824.1,308.6 824.2,311.4 824.4,314.3 824.6,317.3 824.7,320.4 824.9,323.6 825.0,326.9 825.2,330.3 825.3,333.8 825.4,337.4 825.5,341.0 825.6,344.7 825.7,348.5 825.8,352.3 825.8,356.2 825.9,360.1 825.9,364.0 826.0,368.0 826.0,372.0 826.0,376.0 826.0,380.0 826.0,375.5 826.0,371.0 826.0,366.5 826.0,362.0 826.1,357.6 826.1,353.2 826.1,348.9 826.1,344.6 826.2,340.4 826.2,336.3 826.3,332.2 826.3,328.3 826.4,324.5 826.4,320.8 826.5,317.2 826.5,313.7 826.6,310.3 826.7,307.1 826.8,304.1 826.8,301.2 826.9,298.5 827.0,295.9 827.1,293.5 827.2,291.2 827.2,289.2 827.3,287.3 827.4,285.6 827.5,284.1 827.6,282.8 827.7,281.7 827.8,280.8 827.9,280.1 828.0,279.6 828.1,279.3 828.2,279.2 828.4,279.3 828.6,279.6 828.8,280.0 829.0,280.6 829.2,281.4 829.4,282.4 829.6,283.5 829.7,284.8 829.9,286.3 830.1,287.9 830.3,289.7 830.5,291.6 830.6,293.7 830.8,296.0 831.0,298.4 831.1,301.0 831.3,303.7 831.4,306.5 831.6,309.5 831.7,312.6 831.9,315.8 832.0,319.2 832.1,322.7 832.2,326.2 832.4,329.9 832.5,333.7 832.6,337.5 832.7,341.5 832.7,345.5 832.8,349.6 832.9,353.8 833.0,358.0 833.0,362.3 833.1,366.7 833.1,371.0 833.1,375.5 833.2,379.9 833.2,384.3 833.2,388.8 833.2,393.3 833.2,388.9 833.2,384.4 833.2,380.0 833.2,375.6 833.3,371.2 833.3,366.9 833.3,362.5 833.4,358.3 833.4,354.1 833.5,349.9 833.5,345.9 833.6,341.9 833.6,337.9 833.7,334.1 833.8,330.4 833.8,326.7 833.9,323.2 834.0,319.7 834.1,316.4 834.2,313.2 834.3,310.1 834.4,307.1 834.5,304.3 834.6,301.6 834.7,299.1 834.8,296.7 834.9,294.4 835.1,292.3 835.2,290.4 835.3,288.6 835.4,287.0 835.5,285.5 835.7,284.3 835.8,283.1 835.9,282.2 836.1,281.4 836.2,280.8 836.3,280.3 836.5,280.1 836.6,280.0 836.7,280.1 836.9,280.4 837.0,280.8 837.1,281.4 837.3,282.2 837.4,283.2 837.5,284.3 837.7,285.7 837.8,287.1 837.9,288.8 838.1,290.6 838.2,292.6 838.3,294.7 838.4,297.0 838.5,299.5 838.6,302.1 838.8,304.8 838.9,307.7 839.0,310.7 839.1,313.8 839.1,317.1 839.2,320.4 839.3,323.9 839.4,327.5 839.5,331.2 839.5,335.0 839.6,338.9 839.7,342.8 839.7,346.9 839.8,351.0 839.8,355.2 839.9,359.4 839.9,363.7 839.9,368.0 840.0,372.4 840.0,376.7 840.0,381.1 840.0,385.6 840.0,390.0 840.0,385.7 840.0,381.3 840.0,377.0 840.1,372.7 840.1,368.5 840.1,364.3 840.2,360.1 840.2,356.0 840.3,352.0 840.3,348.1 840.4,344.3 840.4,340.5 840.5,336.9 840.6,333.4 840.7,329.9 840.8,326.7 840.9,323.5 841.0,320.5 841.1,317.7 841.2,315.0 841.3,312.5 841.4,310.1 841.5,307.9 841.7,305.9 841.8,304.0 841.9,302.3 842.0,300.9 842.2,299.6 842.3,298.5 842.4,297.6 842.6,296.9 842.7,296.4 842.9,296.1 843.0,296.0 843.1,296.1 843.3,296.4 843.4,296.9 843.5,297.6 843.7,298.5 843.8,299.7 844.0,301.0 844.1,302.5 844.2,304.2 844.3,306.1 844.5,308.1 844.6,310.4 844.7,312.9 844.8,315.5 844.9,318.3 845.1,321.2 845.2,324.4 845.3,327.7 845.4,331.1 845.5,334.7 845.6,338.5 845.7,342.3 845.7,346.4 845.8,350.5 845.9,354.8 846.0,359.1 846.1,363.6 846.1,368.2 846.2,372.9 846.2,377.6 846.3,382.4 846.3,387.3 846.4,392.3 846.4,397.3 846.4,402.4 846.5,407.5 846.5,412.7 846.5,417.8 846.5,423.0 846.5,428.2 846.5,423.0 846.5,417.9 846.5,412.8 846.5,407.7 846.5,402.6 846.6,397.6 846.6,392.6 846.6,387.7 846.7,382.8 846.7,378.0 846.7,373.3 846.8,368.6 846.8,364.1 846.9,359.6 846.9,355.3 847.0,351.1 847.0,347.0 847.1,343.0 847.2,339.1 847.2,335.4 847.3,331.9 847.4,328.4 847.5,325.2 847.5,322.1 847.6,319.1 847.7,316.3 847.8,313.7 847.9,311.3 848.0,309.1 848.0,307.0 848.1,305.1 848.2,303.4 848.3,301.9 848.4,300.6 848.5,299.5 848.6,298.6 848.7,297.9 848.8,297.4 848.9,297.1 849.0,297.0 849.2,297.1 849.3,297.5 849.5,298.0 849.6,298.8 849.8,299.8 849.9,301.1 850.1,302.5 850.2,304.2 850.4,306.0 850.5,308.1 850.6,310.4 850.8,312.9 850.9,315.5 851.0,318.3 851.1,321.3 851.2,324.5 851.3,327.8 851.4,331.2 851.5,334.8 851.6,338.5 851.7,342.3 851.7,346.2 851.8,350.3 851.9,354.4 851.9,358.5 851.9,362.7 852.0,367.0 852.0,371.3 852.0,375.7 852.0,380.0 852.0,375.7 852.0,371.4 852.0,367.2 852.1,363.0 852.1,358.8 852.1,354.7 852.2,350.6 852.3,346.6 852.3,342.8 852.4,339.0 852.5,335.3 852.6,331.8 852.7,328.4 852.8,325.1 852.9,322.0 853.0,319.1 853.1,316.3 853.2,313.7 853.4,311.2 853.5,309.0 853.6,306.9 853.8,305.1 853.9,303.4 854.1,302.0 854.2,300.8 854.4,299.8 854.5,299.0 854.7,298.4 854.8,298.1 855.0,298.0 855.2,298.1 855.3,298.4 855.5,299.0 855.6,299.7 855.8,300.7 856.0,301.9 856.1,303.3 856.3,304.9 856.4,306.8 856.6,308.8 856.7,311.0 856.9,313.4 857.0,316.1 857.1,318.9 857.3,321.9 857.4,325.1 857.5,328.4 857.7,332.0 857.8,335.6 857.9,339.5 858.0,343.5 858.1,347.7 858.2,352.0 858.3,356.4 858.4,361.0 858.5,365.7 858.6,370.5 858.7,375.4 858.7,380.4 858.8,385.5 858.8,390.7 858.9,395.9 858.9,401.2 859.0,406.6 859.0,412.1 859.0,417.5 859.1,423.0 859.1,428.6 859.1,434.1 859.1,439.7 859.1,433.5 859.1,427.3 859.1,421.1 859.1,415.0 859.1,408.9 859.1,402.8 859.2,396.8 859.2,390.8 859.2,385.0 859.2,379.2 859.2,373.5 859.3,367.9 859.3,362.4 859.3,357.1 859.4,351.9 859.4,346.8 859.4,341.8 859.5,337.0 859.5,332.4 859.6,327.9 859.6,323.6 859.7,319.5 859.7,315.5 859.8,311.8 859.8,308.2 859.9,304.9 859.9,301.8 860.0,298.8 860.0,296.1 860.1,293.6 860.1,291.4 860.2,289.3 860.3,287.5 860.3,286.0 860.4,284.6 860.4,283.5 860.5,282.7 860.6,282.1 860.6,281.7 860.7,281.6 860.8,281.7 860.8,282.0 860.9,282.5 861.0,283.3 861.1,284.2 861.1,285.3 861.2,286.6 861.3,288.2 861.3,289.9 861.4,291.8 861.5,293.9 861.5,296.2 861.6,298.7 861.6,301.3 861.7,304.1 861.8,307.1 861.8,310.2 861.9,313.5 861.9,316.9 862.0,320.5 862.0,324.2 862.0,328.0 862.1,331.9 862.1,336.0 862.1,340.1 862.2,344.3 862.2,348.6 862.2,353.0 862.2,357.4 862.3,361.9 862.3,366.5 862.3,371.0 862.3,375.7 862.3,380.3 862.3,384.9 862.3,380.3 862.3,375.7 862.3,371.1 862.3,366.5 862.3,362.0 862.4,357.5 862.4,353.1 862.4,348.7 862.4,344.4 862.4,340.1 862.5,335.9 862.5,331.9 862.5,327.9 862.6,324.0 862.6,320.2 862.7,316.6 862.7,313.0 862.7,309.6 862.8,306.4 862.8,303.2 862.9,300.3 862.9,297.4 863.0,294.8 863.1,292.3 863.1,289.9 863.2,287.8 863.2,285.8 863.3,284.0 863.4,282.3 863.4,280.9 863.5,279.6 863.6,278.6 863.6,277.7 863.7,277.0 863.8,276.5 863.8,276.2 863.9,276.1 864.0,276.2 864.0,276.5 864.1,277.0 864.2,277.6 864.2,278.5 864.3,279.5 864.3,280.7 864.4,282.1 864.5,283.6 864.5,285.4 864.6,287.3 864.6,289.4 864.7,291.6 864.8,294.0 864.8,296.6 864.9,299.3 864.9,302.2 865.0,305.2 865.0,308.4 865.1,311.7 865.1,315.1 865.1,318.6 865.2,322.3 865.2,326.1 865.3,330.0 865.3,334.0 865.3,338.0 865.3,342.2 865.4,346.5 865.4,350.8 865.4,355.2 865.4,359.6 865.5,364.1 865.5,368.7 865.5,373.3 865.5,377.9 865.5,382.5 865.5,387.1 865.5,391.8 865.5,387.3 865.5,382.8 865.5,378.2 865.5,373.8 865.5,369.3 865.6,364.9 865.6,360.5 865.6,356.2 865.6,351.9 865.7,347.7 865.7,343.5 865.7,339.4 865.8,335.4 865.8,331.5 865.9,327.7 865.9,324.0 866.0,320.4 866.0,316.9 866.1,313.5 866.1,310.2 866.2,307.1 866.3,304.1 866.3,301.2 866.4,298.5 866.5,295.9 866.6,293.4 866.6,291.1 866.7,289.0 866.8,287.0 866.9,285.2 866.9,283.6 867.0,282.1 867.1,280.8 867.2,279.6 867.3,278.6 867.4,277.8 867.4,277.2 867.5,276.8 867.6,276.5 867.7,276.4 867.8,276.5 867.9,276.8 868.0,277.3 868.0,277.9 868.1,278.8 868.2,279.8 868.3,281.1 868.4,282.5 868.5,284.1 868.5,285.8 868.6,287.8 868.7,289.9 868.8,292.2 868.8,294.6 868.9,297.2 869.0,300.0 869.1,302.9 869.1,306.0 869.2,309.2 869.3,312.6 869.3,316.1 869.4,319.7 869.4,323.4 869.5,327.3 869.5,331.3 869.6,335.3 869.6,339.5 869.7,343.8 869.7,348.1 869.7,352.6 869.8,357.1 869.8,361.7 869.8,366.3 869.8,371.0 869.9,375.7 869.9,380.5 869.9,385.3 869.9,390.1 869.9,395.0 869.9,399.8 869.9,395.0 869.9,390.1 869.9,385.3 869.9,380.5 869.9,375.7 870.0,371.0 870.0,366.3 870.0,361.7 870.0,357.1 870.1,352.6 870.1,348.2 870.1,343.8 870.2,339.6 870.2,335.4 870.3,331.3 870.3,327.3 870.4,323.5 870.4,319.7 870.5,316.1 870.5,312.6 870.6,309.3 870.6,306.0 870.7,303.0 870.8,300.1 870.8,297.3 870.9,294.7 871.0,292.2 871.0,289.9 871.1,287.8 871.2,285.9 871.3,284.1 871.4,282.5 871.4,281.1 871.5,279.9 871.6,278.9 871.7,278.0 871.8,277.4 871.8,276.9 871.9,276.6 872.0,276.5 872.1,276.6 872.2,276.9 872.2,277.5 872.3,278.2 872.4,279.2 872.5,280.3 872.6,281.7 872.6,283.3 872.7,285.1 872.8,287.0 872.9,289.2 873.0,291.6 873.0,294.1 873.1,296.9 873.2,299.8 873.2,302.9 873.3,306.2 873.4,309.6 873.4,313.2 873.5,317.0 873.5,320.9 873.6,325.0 873.6,329.2 873.7,333.5 873.7,338.0 873.8,342.5 873.8,347.2 873.9,352.0 873.9,356.9 873.9,361.9 874.0,366.9 874.0,372.1 874.0,377.3 874.0,382.5 874.1,387.8 874.1,393.2 874.1,398.5 874.1,403.9 874.1,409.4 874.1,414.8 874.1,409.2 874.1,403.6 874.1,398.0 874.1,392.4 874.1,386.9 874.1,381.4 874.2,376.0 874.2,370.6 874.2,365.3 874.2,360.0 874.2,354.9 874.3,349.8 874.3,344.9 874.3,340.0 874.4,335.3 874.4,330.7 874.4,326.2 874.5,321.9 874.5,317.7 874.6,313.6 874.6,309.7 874.7,306.0 874.7,302.4 874.8,299.0 874.8,295.8 874.9,292.8 874.9,289.9 875.0,287.3 875.0,284.8 875.1,282.6 875.1,280.5 875.2,278.7 875.3,277.1 875.3,275.7 875.4,274.4 875.4,273.5 875.5,272.7 875.6,272.1 875.6,271.8 875.7,271.7 875.8,271.8 875.9,272.2 876.0,272.8 876.0,273.7 876.1,274.7 876.2,276.1 876.3,277.6 876.4,279.4 876.4,281.5 876.5,283.7 876.6,286.1 876.6,288.8 876.7,291.6 876.8,294.7 876.8,297.9 876.9,301.3 876.9,304.9 877.0,308.6 877.0,312.4 877.1,316.4 877.1,320.5 877.2,324.8 877.2,329.1 877.2,333.5 877.2,338.0 877.3,342.6 877.3,347.2 877.3,351.8 877.3,356.5 877.3,361.2 877.3,356.5 877.3,351.8 877.3,347.2 877.3,342.6 877.4,338.1 877.4,333.6 877.4,329.2 877.4,324.9 877.5,320.7 877.5,316.6 877.6,312.7 877.6,308.9 877.7,305.3 877.7,301.8 877.8,298.5 877.9,295.3 877.9,292.4 878.0,289.7 878.1,287.2 878.2,284.9 878.2,282.8 878.3,280.9 878.4,279.3 878.5,278.0 878.6,276.8 878.6,275.9 878.7,275.3 878.8,274.9 878.9,274.8 879.0,274.9 879.0,275.2 879.1,275.7 879.2,276.3 879.2,277.2 879.3,278.2 879.3,279.4 879.4,280.8 879.5,282.4 879.5,284.2 879.6,286.1 879.6,288.2 879.7,290.5 879.7,292.9 879.8,295.5 879.8,298.3 879.9,301.2 879.9,304.3 880.0,307.5 880.0,310.8 880.1,314.3 880.1,317.9 880.2,321.6 880.2,325.5 880.2,329.4 880.3,333.5 880.3,337.7 880.3,341.9 880.4,346.3 880.4,350.7 880.4,355.2 880.4,359.7 880.4,364.4 880.5,369.0 880.5,373.8 880.5,378.5 880.5,383.3 880.5,388.1 880.5,392.9 880.5,397.7 880.5,392.9 880.5,388.1 880.5,383.3 880.5,378.5 880.5,373.8 880.5,369.1 880.5,364.4 880.5,359.8 880.5,355.2 880.6,350.8 880.6,346.4 880.6,342.1 880.6,337.8 880.6,333.7 880.6,329.7 880.7,325.8 880.7,322.0 880.7,318.3 880.7,314.7 880.7,311.3 880.8,308.1 880.8,304.9 880.8,301.9 880.8,299.1 880.8,296.5 880.9,294.0 880.9,291.6 880.9,289.5 881.0,287.5 881.0,285.7 881.0,284.1 881.0,282.7 881.1,281.4 881.1,280.3 881.1,279.5 881.2,278.8 881.2,278.3 881.2,278.0 881.2,277.9 881.3,278.0 881.3,278.3 881.3,278.8 881.4,279.4 881.4,280.3 881.4,281.4 881.5,282.6 881.5,284.0 881.5,285.6 881.5,287.4 881.6,289.3 881.6,291.4 881.6,293.7 881.7,296.2 881.7,298.8 881.7,301.6 881.7,304.5 881.7,307.6 881.8,310.9 881.8,314.2 881.8,317.7 881.8,321.3 881.8,325.1 881.9,328.9 881.9,332.9 881.9,337.0 881.9,341.1 881.9,345.4 881.9,349.7 882.0,354.2 882.0,358.6 882.0,363.2 882.0,367.8 882.0,372.4 882.0,377.1 882.0,381.8 882.0,386.5 882.0,391.3 882.0,396.0 882.0,391.2 882.0,386.4 882.0,381.6 882.0,376.8 882.0,372.1 882.0,367.4 882.0,362.8 882.0,358.2 882.0,353.6 882.1,349.2 882.1,344.8 882.1,340.5 882.1,336.3 882.1,332.2 882.1,328.3 882.1,324.4 882.2,320.7 882.2,317.0 882.2,313.6 882.2,310.2 882.2,307.0 882.3,304.0 882.3,301.1 882.3,298.4 882.3,295.8 882.3,293.5 882.4,291.3 882.4,289.2 882.4,287.4 882.4,285.7 882.5,284.3 882.5,283.0 882.5,281.9 882.5,281.0 882.6,280.3 882.6,279.8 882.6,279.5 882.6,279.4 882.7,279.5 882.7,279.9 882.8,280.6 882.8,281.6 882.8,282.8 882.9,284.3 882.9,286.0 882.9,288.0 883.0,290.2 883.0,292.7 883.0,295.4 883.1,298.3 883.1,301.5 883.1,304.8 883.1,308.4 883.2,312.1 883.2,316.0 883.2,320.0 883.2,324.2 883.2,328.5 883.3,333.0 883.3,337.5 883.3,342.2 883.3,346.9 883.3,351.7 883.3,356.5 883.3,361.3 883.3,366.2 883.3,361.4 883.3,356.6 883.3,351.8 883.3,347.1 883.3,342.5 883.3,337.9 883.4,333.4 883.4,329.0 883.4,324.8 883.4,320.6 883.5,316.6 883.5,312.8 883.5,309.1 883.5,305.6 883.6,302.3 883.6,299.2 883.7,296.4 883.7,293.7 883.7,291.2 883.8,289.0 883.8,287.1 883.9,285.4 883.9,283.9 884.0,282.7 884.0,281.8 884.1,281.1 884.1,280.7 884.1,280.6 884.2,280.7 884.2,281.1 884.3,281.7 884.3,282.6 884.4,283.7 884.4,285.1 884.5,286.8 884.5,288.6 884.5,290.7 884.6,293.1 884.6,295.6 884.7,298.4 884.7,301.4 884.7,304.5 884.8,307.9 884.8,311.4 884.8,315.1 884.9,318.9 884.9,322.9 884.9,327.0 884.9,331.3 884.9,335.6 885.0,340.1 885.0,344.6 885.0,349.2 885.0,353.9 885.0,358.5 885.0,363.3 885.0,368.0 885.0,363.2 885.0,358.3 885.0,353.5 885.0,348.8 885.0,344.1 885.0,339.4 885.0,334.9 885.1,330.5 885.1,326.2 885.1,322.0 885.1,318.0 885.1,314.1 885.2,310.4 885.2,306.8 885.2,303.5 885.2,300.4 885.3,297.5 885.3,294.8 885.3,292.3 885.4,290.1 885.4,288.1 885.4,286.4 885.5,284.9 885.5,283.7 885.5,282.7 885.6,282.1 885.6,281.7 885.6,281.5 885.7,281.7 885.7,282.1 885.8,282.9 885.8,284.0 885.9,285.3 885.9,287.0 885.9,289.0 886.0,291.2 886.0,293.7 886.0,296.4 886.1,299.4 886.1,302.6 886.1,306.1 886.2,309.7 886.2,313.6 886.2,317.6 886.2,321.7 886.3,326.0 886.3,330.4 886.3,335.0 886.3,339.6 886.3,344.2 886.3,348.9 886.3,353.6 886.3,348.7 886.3,343.8 886.3,339.0 886.3,334.2 886.3,329.6 886.4,325.0 886.4,320.6 886.4,316.3 886.4,312.2 886.4,308.3 886.5,304.6 886.5,301.1 886.5,297.9 886.6,294.9 886.6,292.3 886.7,289.8 886.7,287.7 886.7,285.9 886.8,284.5 886.8,283.3 886.9,282.5 886.9,282.0 886.9,281.8 887.0,281.9 887.0,282.3 887.1,283.0 887.1,284.0 887.1,285.2 887.2,286.6 887.2,288.4 887.2,290.4 887.3,292.6 887.3,295.1 887.3,297.7 887.4,300.7 887.4,303.8 887.4,307.1 887.4,310.7 887.5,314.4 887.5,318.2 887.5,322.3 887.5,326.4 887.5,330.8 887.6,335.2 887.6,339.7 887.6,344.3 887.6,349.0 887.6,353.8 887.6,358.6 887.6,363.4 887.6,368.3 887.6,363.5 887.6,358.7 887.6,354.0 887.6,349.3 887.6,344.6 887.6,340.0 887.6,335.6 887.7,331.2 887.7,326.9 887.7,322.8 887.7,318.8 887.7,315.0 887.8,311.3 887.8,307.8 887.8,304.5 887.8,301.4 887.9,298.5 887.9,295.9 887.9,293.4 888.0,291.2 888.0,289.3 888.0,287.6 888.1,286.1 888.1,284.9 888.1,284.0 888.2,283.3 888.2,282.9 888.2,282.8 888.3,282.9 888.3,283.3 888.4,283.9 888.4,284.8 888.4,285.9 888.5,287.3 888.5,288.9 888.5,290.8 888.5,292.9 888.6,295.2 888.6,297.7 888.6,300.4 888.7,303.4 888.7,306.5 888.7,309.9 888.7,313.4 888.8,317.1 888.8,320.9 888.8,324.9 888.8,329.1 888.8,333.3 888.8,337.7 888.9,342.2 888.9,346.8 888.9,351.4 888.9,356.1 888.9,360.9 888.9,365.7 888.9,370.5 888.9,375.4 888.9,370.6 888.9,365.8 888.9,361.1 888.9,356.4 888.9,351.8 888.9,347.2 888.9,342.7 888.9,338.3 889.0,334.0 889.0,329.8 889.0,325.8 889.0,321.8 889.0,318.0 889.0,314.4 889.1,311.0 889.1,307.7 889.1,304.6 889.1,301.7 889.2,299.0 889.2,296.5 889.2,294.2 889.2,292.2 889.3,290.3 889.3,288.7 889.3,287.4 889.3,286.3 889.4,285.4 889.4,284.8 889.4,284.4 889.4,284.3 889.5,284.4 889.5,284.8 889.5,285.5 889.6,286.5 889.6,287.7 889.6,289.2 889.7,291.0 889.7,293.0 889.7,295.2 889.8,297.7 889.8,300.4 889.8,303.4 889.8,306.6 889.9,309.9 889.9,313.5 889.9,317.2 889.9,321.1 889.9,325.1 889.9,329.3 890.0,333.6 890.0,338.0 890.0,342.6 890.0,347.2 890.0,351.8 890.0,356.5 890.0,361.2 890.0,366.0 890.0,361.3 890.0,356.6 890.0,351.9 890.0,347.3 890.0,342.7 890.0,338.3 890.1,333.9 890.1,329.6 890.1,325.4 890.1,321.4 890.1,317.6 890.2,313.9 890.2,310.3 890.2,307.0 890.2,303.9 890.3,300.9 890.3,298.2 890.3,295.8 890.4,293.5 890.4,291.5 890.4,289.8 890.5,288.3 890.5,287.1 890.5,286.1 890.6,285.4 890.6,285.0 890.6,284.9 890.7,285.1 890.7,285.6 890.8,286.5 890.8,287.7 890.9,289.2 890.9,291.1 891.0,293.3 891.0,295.8 891.0,298.6 891.1,301.6 891.1,305.0 891.1,308.6 891.2,312.4 891.2,316.4 891.2,320.6 891.2,325.0 891.3,329.5 891.3,334.2 891.3,338.9 891.3,343.7 891.3,348.6 891.3,353.5 891.3,348.6 891.3,343.7 891.3,338.8 891.3,334.1 891.3,329.4 891.4,324.9 891.4,320.5 891.4,316.4 891.4,312.4 891.5,308.7 891.5,305.2 891.5,302.0 891.6,299.0 891.6,296.4 891.7,294.1 891.7,292.1 891.8,290.5 891.8,289.2 891.9,288.3 891.9,287.8 891.9,287.6 892.0,287.7 892.0,288.2 892.1,288.9 892.1,289.8 892.1,291.1 892.2,292.6 892.2,294.4 892.2,296.5 892.3,298.8 892.3,301.4 892.3,304.1 892.4,307.2 892.4,310.4 892.4,313.8 892.4,317.5 892.5,321.3 892.5,325.3 892.5,329.4 892.5,333.7 892.5,338.1 892.6,342.6 892.6,347.2 892.6,351.9 892.6,356.7 892.6,361.5 892.6,366.4 892.6,371.2 892.6,366.4 892.6,361.6 892.6,356.8 892.6,352.1 892.6,347.4 892.6,342.9 892.7,338.4 892.7,334.0 892.7,329.8 892.7,325.6 892.7,321.7 892.8,317.9 892.8,314.3 892.8,310.9 892.8,307.7 892.9,304.7 892.9,301.9 892.9,299.4 893.0,297.1 893.0,295.1 893.0,293.3 893.1,291.8 893.1,290.5 893.1,289.5 893.2,288.8 893.2,288.4 893.2,288.3 893.3,288.5 893.3,289.0 893.4,289.8 893.4,291.0 893.5,292.6 893.5,294.4 893.6,296.6 893.6,299.1 893.6,301.8 893.7,304.9 893.7,308.2 893.7,311.7 893.8,315.5 893.8,319.5 893.8,323.6 893.8,328.0 893.9,332.5 893.9,337.1 893.9,341.8 893.9,346.5 893.9,351.3 893.9,356.2 893.9,351.3 893.9,346.4 893.9,341.5 893.9,336.8 893.9,332.1 894.0,327.6 894.0,323.3 894.0,319.1 894.0,315.1 894.0,311.4 894.1,307.9 894.1,304.7 894.1,301.8 894.2,299.2 894.2,296.9 894.2,294.9 894.3,293.3 894.3,292.0 894.4,291.1 894.4,290.6 894.4,290.4 894.5,290.5 894.5,291.0 894.6,291.7 894.6,292.8 894.6,294.2 894.7,295.8 894.7,297.8 894.7,300.0 894.7,302.5 894.8,305.2 894.8,308.2 894.8,311.4 894.9,314.9 894.9,318.5 894.9,322.4 894.9,326.4 894.9,330.6 894.9,334.9 895.0,339.4 895.0,344.0 895.0,348.7 895.0,353.5 895.0,358.3 895.0,363.1 895.0,368.0 895.0,363.2 895.0,358.4 895.0,353.7 895.0,349.0 895.0,344.4 895.0,339.9 895.1,335.5 895.1,331.3 895.1,327.2 895.1,323.2 895.1,319.4 895.2,315.8 895.2,312.4 895.2,309.3 895.3,306.3 895.3,303.6 895.3,301.2 895.4,299.0 895.4,297.1 895.4,295.5 895.5,294.2 895.5,293.1 895.6,292.4 895.6,291.9 895.6,291.8 895.7,291.9 895.7,292.2 895.7,292.7 895.8,293.5 895.8,294.4 895.8,295.6 895.9,296.9 895.9,298.5 895.9,300.3 895.9,302.2 896.0,304.4 896.0,306.7 896.0,309.2 896.0,311.9 896.1,314.8 896.1,317.8 896.1,321.0 896.1,324.4 896.1,327.9 896.2,331.5 896.2,335.3 896.2,339.2 896.2,343.2 896.2,347.3 896.2,351.6 896.2,355.9 896.3,360.3 896.3,364.7 896.3,369.3 896.3,373.9 896.3,378.5 896.3,383.2 896.3,387.9 896.3,392.6 896.3,397.4 896.3,392.6 896.3,387.9 896.3,383.2 896.3,378.5 896.3,373.9 896.3,369.3 896.3,364.8 896.3,360.3 896.4,355.9 896.4,351.6 896.4,347.4 896.4,343.3 896.4,339.4 896.4,335.5 896.4,331.8 896.5,328.2 896.5,324.8 896.5,321.5 896.5,318.4 896.6,315.4 896.6,312.7 896.6,310.1 896.6,307.7 896.7,305.5 896.7,303.4 896.7,301.6 896.7,300.0 896.8,298.6 896.8,297.4 896.8,296.4 896.9,295.7 896.9,295.1 896.9,294.8 896.9,294.7 897.0,294.8 897.0,295.3 897.1,296.0 897.1,297.1 897.2,298.4 897.2,300.0 897.2,301.8 897.3,304.0 897.3,306.4 897.3,309.0 897.4,311.9 897.4,315.1 897.4,318.4 897.5,321.9 897.5,325.7 897.5,329.6 897.5,333.6 897.5,337.8 897.6,342.2 897.6,346.6 897.6,351.1 897.6,355.8 897.6,360.4 897.6,365.1 897.6,369.8 897.6,365.1 897.6,360.4 897.6,355.7 897.6,351.1 897.6,346.6 897.6,342.2 897.7,337.9 897.7,333.7 897.7,329.7 897.7,325.8 897.8,322.2 897.8,318.7 897.8,315.5 897.9,312.5 897.9,309.8 897.9,307.3 898.0,305.0 898.0,303.1 898.0,301.4 898.1,300.0 898.1,299.0 898.2,298.2 898.2,297.7 898.2,297.6 898.3,297.8 898.4,298.4 898.4,299.4 898.5,300.9 898.5,302.7 898.6,304.9 898.6,307.5 898.7,310.4 898.7,313.6 898.7,317.1 898.8,320.9 898.8,325.0 898.8,329.2 898.9,333.6 898.9,338.2 898.9,342.8 898.9,347.6 898.9,352.3 898.9,347.5 898.9,342.6 898.9,337.9 898.9,333.3 899.0,328.8 899.0,324.6 899.0,320.5 899.1,316.8 899.1,313.3 899.2,310.2 899.2,307.5 899.3,305.1 899.3,303.1 899.4,301.6 899.4,300.5 899.5,299.8 899.5,299.6 899.6,299.8 899.6,300.3 899.7,301.2 899.7,302.5 899.8,304.1 899.8,306.0 899.9,308.3 899.9,310.9 900.0,313.7 900.0,316.9 900.0,320.3 900.1,324.0 900.1,327.9 900.1,332.0 900.1,336.3 900.2,340.8 900.2,345.3 900.2,350.0 900.2,354.8 900.2,359.6 900.2,364.5 900.2,359.6 900.2,354.8 900.2,350.1 900.2,345.5 900.2,340.9 900.3,336.5 900.3,332.3 900.3,328.3 900.4,324.5 900.4,320.9 900.4,317.7 900.5,314.7 900.5,312.0 900.6,309.6 900.6,307.6 900.6,305.9 900.7,304.6 900.7,303.7 900.8,303.1 900.8,302.9 900.9,303.1 901.0,303.8 901.0,304.9 901.1,306.5 901.1,308.5 901.2,310.8 901.2,313.6 901.3,316.7 901.3,320.2 901.4,324.0 901.4,328.0 901.4,332.3 901.5,336.7 901.5,341.4 901.5,346.2 901.5,351.0 901.5,355.9 901.5,351.0 901.5,346.3 901.5,341.5 901.5,337.0 901.5,332.6 901.6,328.4 901.6,324.5 901.6,321.0 901.6,317.7 901.7,314.8 901.7,312.3 901.7,310.2 901.8,308.6 901.8,307.4 901.9,306.7 901.9,306.5 901.9,306.6 901.9,306.9 901.9,307.5 902.0,308.2 902.0,309.2 902.0,310.4 902.0,311.8 902.0,313.4 902.0,315.2 902.1,317.3 902.1,319.5 902.1,321.9 902.1,324.5 902.1,327.3 902.1,330.3 902.1,333.5 902.1,336.9 902.2,340.4 902.2,344.1 902.2,347.9 902.2,351.9 902.2,356.1 902.2,360.4 902.2,364.8 902.2,369.4 902.2,374.1 902.2,378.9 902.3,383.8 902.3,388.8 902.3,393.8 902.3,399.0 902.3,404.3 902.3,409.6 902.3,415.0 902.3,420.4 902.3,425.9 902.3,431.4 902.3,436.9 902.3,442.4 902.3,448.0 902.3,442.5 902.3,437.1 902.3,431.7 902.3,426.2 902.3,420.9 902.3,415.5 902.3,410.3 902.3,405.0 902.3,399.9 902.3,394.8 902.4,389.8 902.4,384.9 902.4,380.1 902.4,375.3 902.4,370.7 902.4,366.3 902.4,361.9 902.5,357.7 902.5,353.6 902.5,349.7 902.5,345.9 902.5,342.3 902.5,338.8 902.6,335.5 902.6,332.4 902.6,329.4 902.6,326.7 902.7,324.1 902.7,321.7 902.7,319.5 902.7,317.5 902.7,315.8 902.8,314.2 902.8,312.8 902.8,311.6 902.8,310.7 902.9,309.9 902.9,309.4 902.9,309.1 902.9,309.0 903.0,309.2 903.1,309.9 903.1,311.1 903.2,312.8 903.3,314.9 903.3,317.4 903.4,320.3 903.4,323.6 903.5,327.3 903.5,331.2 903.5,335.4 903.6,339.9 903.6,344.5 903.6,349.3 903.6,354.1 903.6,359.0 903.6,354.1 903.6,349.3 903.6,344.5 903.7,340.0 903.7,335.6 903.7,331.5 903.8,327.7 903.8,324.2 903.9,321.1 903.9,318.4 904.0,316.2 904.0,314.4 904.1,313.2 904.2,312.4 904.2,312.1 904.3,312.3 904.3,312.8 904.4,313.6 904.4,314.7 904.5,316.2 904.5,317.9 904.5,320.0 904.6,322.3 904.6,324.9 904.7,327.8 904.7,330.9 904.7,334.3 904.8,337.9 904.8,341.7 904.8,345.7 904.8,349.8 904.8,354.1 904.9,358.6 904.9,363.1 904.9,367.7 904.9,372.4 904.9,377.2 904.9,381.9 904.9,377.2 904.9,372.5 904.9,367.8 904.9,363.3 904.9,358.8 905.0,354.4 905.0,350.1 905.0,346.1 905.0,342.2 905.1,338.5 905.1,335.0 905.1,331.8 905.2,328.8 905.2,326.1 905.2,323.7 905.3,321.6 905.3,319.8 905.4,318.3 905.4,317.1 905.5,316.3 905.5,315.8 905.5,315.6 905.6,315.8 905.7,316.4 905.7,317.3 905.8,318.6 905.8,320.3 905.8,322.3 905.9,324.7 905.9,327.4 906.0,330.4 906.0,333.7 906.0,337.3 906.1,341.1 906.1,345.1 906.1,349.3 906.2,353.7 906.2,358.3 906.2,363.0 906.2,367.7 906.2,372.5 906.2,377.4 906.2,372.5 906.2,367.7 906.2,362.9 906.2,358.3 906.3,353.8 906.3,349.4 906.3,345.3 906.4,341.5 906.4,337.9 906.4,334.6 906.5,331.6 906.5,329.0 906.6,326.7 906.6,324.9 906.7,323.4 906.7,322.4 906.8,321.7 906.8,321.5 907.0,321.9 907.1,323.0 907.1,324.9 907.2,327.5 907.3,330.7 907.4,334.5 907.4,338.7 907.5,343.3 907.5,348.1 907.5,353.0 907.5,348.0 907.5,343.2 907.6,338.8 907.7,335.0 907.8,331.8 907.9,329.5 908.0,328.0 908.1,327.5 908.2,327.8 908.3,328.4 908.3,329.5 908.4,331.0 908.4,332.8 908.5,335.1 908.5,337.8 908.6,340.8 908.6,344.1 908.6,347.7 908.7,351.6 908.7,355.8 908.7,360.2 908.8,364.7 908.8,369.4 908.8,374.2 908.8,379.1 908.8,384.0 908.8,379.0 908.8,374.1 908.8,369.3 908.9,364.7 908.9,360.3 908.9,356.2 909.0,352.5 909.0,349.2 909.1,346.3 909.2,343.9 909.2,341.9 909.3,340.6 909.4,339.7 909.4,339.4 909.6,340.0 909.7,341.4 909.8,343.9 909.9,347.1 910.0,351.1 910.1,355.7 910.1,360.6 910.1,365.7 910.1,365.2 910.2,364.7 910.3,364.3 910.4,364.0 910.6,363.8 910.7,363.8 910.9,364.1 911.1,365.0 911.2,366.4 911.3,368.2 911.4,370.4 911.4,372.7 911.4,374.5 911.4,376.3 911.4,377.8 911.4,379.0 911.4,379.7 911.4,379.9 911.5,380.3 911.5,381.2 911.5,382.8 911.5,384.8 911.5,387.2 911.5,389.7 911.5,384.8 911.5,379.9 911.5,375.1 911.5,370.3 911.5,365.7 911.4,361.3 911.4,357.1 911.4,353.0 911.4,349.3 911.3,345.8 911.3,342.6 911.3,339.7 911.2,337.2 911.2,335.0 911.2,333.2 911.1,331.8 911.1,330.8 911.0,330.2 911.0,330.0 910.8,293.2 911.0,288.0 911.2,282.8 911.4,277.6 911.6,272.4 911.7,267.2 911.9,262.0 912.1,256.8 912.3,251.6 912.6,246.4 912.9,241.2 913.2,236.0 913.6,230.8 914.1,225.6 914.6,220.4 915.2,215.3 916.0,210.1 916.8,204.9 917.7,199.7 918.8,194.5 920.0,189.3 921.3,184.1 922.7,178.9 924.4,173.7 926.1,168.5 928.1,163.3 930.2,158.1 932.6,152.9 935.1,147.7 937.8,142.5" stroke="#ff00ff" stroke-width="3.3" stroke-dasharray="12.5 12"/>
<path d="M99.0,118.6L108.1,123.1 110.4,124.3 112.6,125.5 114.8,126.8 117.1,128.1 119.4,129.5 121.6,131.0 123.9,132.5 126.2,134.0 128.5,135.4 130.8,136.8 133.0,138.2 135.3,139.5 137.6,140.8 139.8,142.1 142.0,143.3 144.3,144.5 146.6,145.7 148.8,146.8 151.1,147.9 153.4,149.0 155.7,150.2 158.1,151.3 160.4,152.5 162.5,153.5 164.3,154.4 166.0,155.2 167.5,155.9 169.0,156.7 170.3,157.5 171.4,158.2 172.6,159.1 174.1,160.0 176.1,161.1 178.3,162.3 180.8,163.6 183.1,164.9 185.4,166.1 187.6,167.4 189.9,168.6 192.2,169.9 194.5,171.2 196.8,172.4 199.0,173.7 201.3,174.9 203.6,176.2 205.8,177.4 208.0,178.7 210.3,179.9 212.6,181.1 214.8,182.2 217.1,183.3 219.4,184.4 221.7,185.4 224.1,186.3 226.4,187.2 228.5,188.0 230.2,188.7 231.8,189.2 233.3,189.8 235.0,190.4 237.1,191.1 239.4,192.0 241.8,192.8 244.1,193.6 246.4,194.4 248.6,195.3 250.8,196.1 253.1,196.8 255.4,197.4 257.6,198.0 259.9,198.5 262.2,199.0 264.5,199.6 266.8,200.1 269.0,200.7 271.3,201.3 273.6,201.9 275.8,202.5 278.0,203.1 280.3,203.8 282.6,204.5 284.8,205.2 287.1,205.9 289.4,206.7 291.7,207.6 294.1,208.6 296.4,209.5 298.5,210.4 300.2,211.1 301.7,211.8 303.3,212.4 305.0,213.2 307.1,214.1 309.4,215.1 311.8,216.1 314.1,217.2 316.4,218.4 318.6,219.6 320.8,220.9 323.1,222.2 325.4,223.5 327.6,224.8 329.9,226.0 332.2,227.2 334.5,228.2 336.8,229.1 339.0,230.0 341.3,230.8 343.6,231.6 345.8,232.4 348.0,233.2 350.3,234.0 352.6,234.8 354.8,235.6 357.1,236.4 359.4,237.2 361.7,238.1 364.1,239.0 366.4,239.9 368.5,240.8 370.2,241.7 371.7,242.6 373.3,243.5 375.0,244.5 377.1,245.5 379.4,246.5 381.8,247.5 384.1,248.6 386.4,249.7 388.6,250.8 390.8,252.0 393.1,253.1 395.4,254.2 397.6,255.2 399.9,256.2 402.2,257.2 404.5,258.2 406.8,259.2 409.0,260.2 411.3,261.3 413.6,262.4 415.8,263.5 418.0,264.6 420.3,265.8 422.6,267.1 424.8,268.5 427.1,269.9 429.4,271.3 431.7,272.7 434.1,274.1 436.4,275.4 438.5,276.7 440.4,277.8 442.1,278.9 443.6,279.9 445.0,280.8 446.1,281.6 446.9,282.3 447.8,283.1 449.1,284.1 451.0,285.4 453.3,286.9 455.7,288.4 458.1,290.0 460.4,291.5 462.6,293.0 464.9,294.6 467.2,296.3 469.5,298.1 471.8,300.0 474.0,301.9 476.3,304.0 478.6,306.2 481.0,308.5 483.2,310.9 485.3,313.1 487.2,315.3 489.0,317.5 490.5,319.6 491.7,321.2 493.3,324.0 493.5,324.4 493.7,325.5 493.9,327.3 494.0,329.7 494.1,332.4 494.1,335.4 494.2,333.2 494.3,331.1 494.6,329.4 495.0,328.0 495.4,327.2 495.9,326.9 499.5,333.0 502.5,340.2 505.0,347.5 506.3,357.2 506.4,357.3 506.5,357.6 506.5,358.0 506.6,358.7 506.7,359.5 506.8,360.6 506.9,361.8 506.9,363.1 507.0,364.7 507.1,366.4 507.2,368.4 507.3,370.4 507.3,372.7 507.4,375.1 507.5,377.6 507.5,380.4 507.6,383.2 507.7,386.2 507.7,389.4 507.8,392.6 507.8,396.0 507.9,399.6 507.9,403.2 508.0,406.9 508.0,410.8 508.1,414.7 508.1,418.8 508.1,422.9 508.2,427.1 508.2,431.3 508.2,435.7 508.2,440.0 508.3,444.5 508.3,448.9 508.3,453.4 508.3,457.9 508.3,462.5 508.3,467.0 508.3,462.6 508.3,458.3 508.3,453.9 508.4,449.6 508.4,445.4 508.5,441.2 508.5,437.0 508.6,432.9 508.7,428.9 508.8,425.0 508.9,421.2 509.0,417.6 509.1,414.0 509.2,410.5 509.3,407.2 509.4,404.1 509.6,401.1 509.7,398.2 509.9,395.5 510.0,393.0 510.2,390.7 510.4,388.5 510.5,386.5 510.7,384.8 510.9,383.2 511.1,381.8 511.3,380.7 511.4,379.7 511.6,379.0 511.8,378.4 512.0,378.1 512.2,378.0 512.6,378.1 513.1,378.4 513.5,378.9 513.9,379.7 514.3,380.6 514.8,381.8 515.2,383.1 515.6,384.7 516.0,386.4 516.4,388.4 516.8,390.5 517.2,392.8 517.6,395.3 517.9,398.0 518.3,400.9 518.7,404.0 519.0,407.2 519.3,410.6 519.7,414.1 520.0,417.8 520.3,421.7 520.6,425.7 520.8,429.8 521.1,434.1 521.3,438.4 521.6,442.9 521.8,447.5 522.0,452.3 522.2,457.1 522.4,462.0 522.5,466.9 522.7,472.0 522.8,477.1 522.9,482.3 523.0,487.5 523.1,492.7 523.1,498.0 523.2,503.3 523.2,508.7 523.2,514.0 523.2,509.6 523.2,505.1 523.3,500.7 523.3,496.3 523.4,492.0 523.4,487.6 523.5,483.3 523.6,479.1 523.7,474.9 523.8,470.8 523.9,466.7 524.1,462.7 524.2,458.8 524.4,455.0 524.5,451.2 524.7,447.6 524.9,444.0 525.1,440.6 525.3,437.3 525.5,434.1 525.8,431.0 526.0,428.1 526.2,425.3 526.5,422.6 526.8,420.0 527.0,417.7 527.3,415.4 527.6,413.3 527.9,411.4 528.1,409.6 528.4,408.0 528.7,406.5 529.0,405.2 529.3,404.1 529.6,403.2 529.9,402.4 530.3,401.8 530.6,401.3 530.9,401.1 531.2,401.0 531.4,401.1 531.7,401.3 531.9,401.7 532.1,402.3 532.4,403.1 532.6,404.0 532.8,405.1 533.1,406.3 533.3,407.7 533.5,409.2 533.7,410.9 533.9,412.8 534.1,414.8 534.3,416.9 534.5,419.2 534.7,421.6 534.9,424.2 535.1,426.9 535.3,429.7 535.4,432.6 535.6,435.7 535.8,438.9 535.9,442.1 536.1,445.5 536.2,449.0 536.3,452.6 536.4,456.2 536.5,460.0 536.6,463.8 536.7,467.7 536.8,471.6 536.9,475.6 537.0,479.7 537.0,483.8 537.1,487.9 537.1,492.1 537.2,496.3 537.2,500.5 537.2,504.8 537.2,509.0 537.2,504.1 537.2,499.3 537.3,494.4 537.3,489.6 537.3,484.8 537.4,480.1 537.5,475.3 537.6,470.7 537.7,466.1 537.8,461.5 537.9,457.1 538.1,452.7 538.2,448.4 538.3,444.2 538.5,440.1 538.7,436.1 538.9,432.2 539.1,428.5 539.3,424.8 539.5,421.3 539.7,417.9 539.9,414.7 540.2,411.6 540.4,408.7 540.7,405.9 540.9,403.3 541.2,400.8 541.5,398.5 541.7,396.4 542.0,394.4 542.3,392.7 542.6,391.1 542.9,389.7 543.2,388.4 543.5,387.4 543.8,386.5 544.1,385.9 544.4,385.4 544.7,385.1 545.0,385.0 545.2,385.1 545.5,385.4 545.7,385.8 546.0,386.5 546.2,387.3 546.4,388.3 546.7,389.5 546.9,390.8 547.1,392.4 547.3,394.1 547.6,395.9 547.8,398.0 548.0,400.2 548.2,402.5 548.4,405.1 548.6,407.7 548.8,410.5 549.0,413.5 549.1,416.6 549.3,419.9 549.5,423.2 549.6,426.7 549.8,430.3 549.9,434.1 550.1,437.9 550.2,441.8 550.3,445.9 550.4,450.0 550.5,454.2 550.6,458.5 550.7,462.8 550.8,467.2 550.9,471.7 550.9,476.2 551.0,480.8 551.0,485.4 551.1,490.0 551.1,494.7 551.1,499.3 551.1,504.0 551.1,498.7 551.1,493.5 551.2,488.2 551.2,483.0 551.3,477.9 551.3,472.7 551.4,467.6 551.5,462.6 551.6,457.6 551.7,452.7 551.8,447.9 552.0,443.2 552.1,438.5 552.3,434.0 552.4,429.6 552.6,425.2 552.8,421.0 553.0,417.0 553.2,413.0 553.4,409.2 553.7,405.6 553.9,402.1 554.1,398.8 554.4,395.6 554.7,392.6 554.9,389.7 555.2,387.1 555.5,384.6 555.8,382.3 556.0,380.2 556.3,378.3 556.6,376.6 556.9,375.0 557.2,373.7 557.5,372.6 557.8,371.6 558.2,370.9 558.5,370.4 558.8,370.1 559.1,370.0 559.3,370.1 559.6,370.4 559.8,370.9 560.0,371.6 560.2,372.5 560.5,373.6 560.7,374.8 560.9,376.3 561.1,378.0 561.3,379.8 561.5,381.8 561.7,384.1 561.9,386.4 562.1,389.0 562.3,391.7 562.5,394.6 562.7,397.7 562.9,400.9 563.0,404.3 563.2,407.8 563.4,411.4 563.5,415.2 563.7,419.1 563.8,423.2 563.9,427.3 564.0,431.6 564.2,436.0 564.3,440.4 564.4,445.0 564.5,449.6 564.5,454.4 564.6,459.1 564.7,464.0 564.7,468.9 564.8,473.8 564.8,478.8 564.9,483.8 564.9,488.9 564.9,493.9 564.9,499.0 564.9,493.4 564.9,487.8 565.0,482.2 565.0,476.6 565.1,471.1 565.1,465.6 565.2,460.2 565.3,454.8 565.4,449.5 565.5,444.3 565.7,439.1 565.8,434.1 566.0,429.1 566.1,424.3 566.3,419.6 566.5,414.9 566.7,410.5 566.9,406.1 567.1,401.9 567.3,397.9 567.6,394.0 567.8,390.3 568.1,386.7 568.3,383.3 568.6,380.1 568.9,377.1 569.1,374.2 569.4,371.6 569.7,369.1 570.0,366.9 570.3,364.8 570.6,363.0 570.9,361.4 571.3,360.0 571.6,358.7 571.9,357.8 572.2,357.0 572.5,356.4 572.9,356.1 573.2,356.0 573.5,356.1 573.7,356.4 574.0,356.9 574.2,357.5 574.5,358.4 574.7,359.4 575.0,360.7 575.2,362.1 575.5,363.7 575.7,365.4 576.0,367.4 576.2,369.5 576.4,371.8 576.6,374.3 576.9,376.9 577.1,379.7 577.3,382.6 577.5,385.7 577.7,388.9 577.9,392.3 578.0,395.8 578.2,399.5 578.4,403.2 578.5,407.1 578.7,411.1 578.8,415.2 579.0,419.4 579.1,423.7 579.2,428.1 579.3,432.5 579.4,437.1 579.5,441.7 579.6,446.3 579.6,451.1 579.7,455.8 579.7,460.6 579.8,465.4 579.8,470.3 579.8,475.1 579.8,480.0 579.8,474.7 579.8,469.4 579.9,464.1 579.9,458.9 579.9,453.7 580.0,448.5 580.1,443.4 580.2,438.3 580.3,433.3 580.4,428.3 580.5,423.5 580.6,418.7 580.8,414.0 580.9,409.5 581.1,405.0 581.2,400.6 581.4,396.4 581.6,392.3 581.8,388.4 582.0,384.5 582.2,380.9 582.4,377.3 582.7,374.0 582.9,370.8 583.1,367.8 583.4,364.9 583.6,362.2 583.9,359.7 584.2,357.4 584.4,355.3 584.7,353.3 585.0,351.6 585.3,350.1 585.5,348.7 585.8,347.6 586.1,346.7 586.4,345.9 586.7,345.4 587.0,345.1 587.3,345.0 587.6,345.1 587.8,345.5 588.1,346.0 588.3,346.8 588.6,347.8 588.8,349.1 589.1,350.5 589.3,352.2 589.6,354.1 589.8,356.2 590.1,358.5 590.3,361.0 590.5,363.7 590.7,366.7 591.0,369.8 591.2,373.1 591.4,376.6 591.6,380.2 591.8,384.1 592.0,388.1 592.1,392.2 592.3,396.5 592.5,401.0 592.6,405.6 592.8,410.3 592.9,415.2 593.1,420.2 593.2,425.3 593.3,430.5 593.4,435.7 593.5,441.1 593.6,446.6 593.7,452.1 593.7,457.7 593.8,463.3 593.8,469.0 593.9,474.7 593.9,480.5 593.9,486.2 593.9,492.0 593.9,486.1 593.9,480.3 593.9,474.4 594.0,468.6 594.0,462.8 594.1,457.1 594.1,451.4 594.2,445.8 594.3,440.2 594.3,434.8 594.4,429.4 594.5,424.1 594.7,418.9 594.8,413.8 594.9,408.9 595.0,404.1 595.2,399.4 595.3,394.8 595.5,390.5 595.6,386.2 595.8,382.1 596.0,378.2 596.1,374.5 596.3,371.0 596.5,367.6 596.7,364.4 596.9,361.5 597.1,358.7 597.3,356.1 597.5,353.8 597.8,351.6 598.0,349.7 598.2,348.0 598.4,346.5 598.6,345.3 598.9,344.2 599.1,343.4 599.3,342.9 599.6,342.5 599.8,342.4 600.0,342.5 600.2,342.8 600.4,343.4 600.6,344.1 600.8,345.0 601.0,346.2 601.2,347.6 601.3,349.1 601.5,350.9 601.7,352.9 601.9,355.0 602.1,357.4 602.2,359.9 602.4,362.7 602.6,365.6 602.7,368.7 602.9,371.9 603.0,375.4 603.2,379.0 603.3,382.7 603.5,386.6 603.6,390.6 603.7,394.8 603.8,399.1 604.0,403.6 604.1,408.1 604.2,412.8 604.3,417.5 604.3,422.4 604.4,427.3 604.5,432.4 604.6,437.5 604.6,442.6 604.7,447.9 604.7,453.2 604.7,458.5 604.8,463.8 604.8,469.2 604.8,474.6 604.8,480.0 604.8,475.0 604.8,469.9 604.8,464.9 604.8,459.9 604.9,455.0 604.9,450.0 604.9,445.1 605.0,440.3 605.0,435.6 605.1,430.9 605.1,426.2 605.2,421.7 605.2,417.3 605.3,412.9 605.4,408.7 605.4,404.5 605.5,400.5 605.6,396.6 605.7,392.8 605.8,389.2 605.9,385.7 606.0,382.4 606.1,379.2 606.2,376.1 606.3,373.2 606.4,370.5 606.5,368.0 606.6,365.6 606.7,363.4 606.8,361.4 607.0,359.5 607.1,357.9 607.2,356.4 607.3,355.1 607.5,354.1 607.6,353.2 607.7,352.5 607.8,352.0 608.0,351.7 608.1,351.6 608.3,351.7 608.5,352.0 608.7,352.4 608.9,353.0 609.1,353.9 609.3,354.8 609.5,356.0 609.7,357.3 609.9,358.9 610.1,360.5 610.3,362.4 610.5,364.4 610.6,366.6 610.8,368.9 611.0,371.4 611.2,374.0 611.3,376.8 611.5,379.7 611.6,382.8 611.8,386.0 611.9,389.3 612.1,392.8 612.2,396.3 612.3,400.0 612.4,403.8 612.5,407.7 612.6,411.6 612.7,415.7 612.8,419.8 612.9,424.1 613.0,428.4 613.0,432.7 613.1,437.1 613.2,441.6 613.2,446.1 613.2,450.6 613.3,455.2 613.3,459.8 613.3,464.4 613.3,469.0 613.3,463.9 613.3,458.9 613.3,453.8 613.3,448.8 613.3,443.8 613.4,438.9 613.4,434.0 613.4,429.1 613.5,424.4 613.5,419.6 613.5,415.0 613.6,410.4 613.6,406.0 613.7,401.6 613.7,397.3 613.8,393.2 613.8,389.1 613.9,385.2 614.0,381.4 614.0,377.8 614.1,374.3 614.2,370.9 614.3,367.7 614.3,364.6 614.4,361.7 614.5,359.0 614.6,356.4 614.7,354.1 614.8,351.8 614.8,349.8 614.9,348.0 615.0,346.3 615.1,344.8 615.2,343.6 615.3,342.5 615.4,341.6 615.5,340.9 615.6,340.4 615.7,340.1 615.8,340.0 617.2,323.5 619.9,314.5 622.0,309.8 622.7,308.7 623.4,307.6 624.2,306.5 625.2,305.3 626.5,303.8 627.9,302.2 629.4,300.5 630.8,299.0 631.9,297.7 632.9,296.4 633.9,295.3 635.0,294.4 636.2,293.7 637.4,293.2 638.7,292.7 639.9,292.2 640.9,291.6 641.7,291.1 642.7,290.5 644.1,289.8 646.0,289.0 648.3,288.0 650.7,287.1 653.1,286.2 655.4,285.4 657.7,284.7 659.9,284.1 662.2,283.5 664.5,283.0 666.7,282.6 668.9,282.3 671.2,282.1 673.6,282.0 676.1,282.0 678.4,282.1 680.3,282.1 684.3,282.3 684.7,282.8 685.1,284.1 685.4,286.3 685.7,289.2 685.8,292.5 685.9,296.1 686.0,293.1 686.3,290.2 686.9,287.8 687.5,286.0 688.3,284.8 689.2,284.4 690.2,284.6 691.1,285.1 691.9,286.0 692.5,287.0 692.9,288.3 693.0,289.7 693.1,288.8 693.5,288.0 694.0,287.3 694.8,286.8 695.6,286.4 696.5,286.3 699.5,288.9 699.8,289.4 700.0,291.0 700.3,293.6 700.5,296.8 700.6,300.7 700.6,304.8 700.7,301.7 700.9,298.8 701.2,296.2 701.5,294.3 702.0,293.1 702.5,292.7 704.8,295.0 704.9,295.1 705.0,295.4 705.1,296.0 705.2,296.7 705.2,297.7 705.3,298.9 705.4,300.3 705.5,301.9 705.6,303.7 705.7,305.7 705.8,307.9 705.8,310.3 705.9,312.9 706.0,315.6 706.0,318.6 706.1,321.7 706.2,324.9 706.2,328.3 706.3,331.8 706.3,335.5 706.4,339.3 706.4,343.2 706.5,347.3 706.5,351.4 706.6,355.6 706.6,359.9 706.6,364.3 706.6,368.7 706.7,373.2 706.7,377.8 706.7,382.3 706.7,386.9 706.7,391.5 706.7,387.1 706.7,382.8 706.7,378.5 706.8,374.2 706.8,370.0 706.9,365.8 706.9,361.7 707.0,357.7 707.1,353.7 707.1,349.9 707.2,346.2 707.3,342.6 707.4,339.1 707.5,335.8 707.7,332.7 707.8,329.7 707.9,326.8 708.1,324.2 708.2,321.7 708.4,319.4 708.5,317.4 708.7,315.5 708.8,313.8 709.0,312.4 709.1,311.1 709.3,310.1 709.5,309.3 709.7,308.8 709.8,308.4 710.0,308.3 710.2,308.5 710.4,309.0 710.6,309.8 710.7,310.9 710.9,312.3 711.1,314.1 711.2,316.1 711.4,318.4 711.6,321.0 711.7,323.8 711.8,326.9 712.0,330.2 712.1,333.7 712.2,337.4 712.3,341.2 712.3,345.2 712.4,349.3 712.4,353.5 712.5,357.8 712.5,362.2 712.5,366.5 712.5,362.8 712.6,359.0 712.7,355.4 712.8,351.9 713.0,348.5 713.2,345.3 713.4,342.3 713.7,339.5 714.0,337.0 714.3,334.7 714.7,332.8 715.0,331.2 715.4,329.9 715.8,329.0 716.2,328.5 716.6,328.3 716.8,328.4 716.9,328.7 717.1,329.1 717.2,329.7 717.4,330.5 717.5,331.5 717.7,332.7 717.8,334.0 717.9,335.5 718.1,337.2 718.2,339.0 718.4,341.0 718.5,343.1 718.6,345.4 718.8,347.9 718.9,350.5 719.0,353.3 719.1,356.1 719.2,359.2 719.3,362.3 719.4,365.6 719.5,369.0 719.6,372.5 719.7,376.1 719.8,379.8 719.9,383.6 720.0,387.6 720.0,391.5 720.1,395.6 720.2,399.7 720.2,403.9 720.2,408.2 720.3,412.5 720.3,416.9 720.4,421.2 720.4,425.7 720.4,430.1 720.4,434.5 720.4,439.0 720.4,434.7 720.4,430.3 720.4,426.0 720.5,421.7 720.5,417.5 720.5,413.3 720.6,409.1 720.6,405.0 720.7,401.0 720.8,397.1 720.9,393.3 721.0,389.5 721.0,385.9 721.1,382.4 721.3,378.9 721.4,375.7 721.5,372.5 721.6,369.5 721.7,366.7 721.9,364.0 722.0,361.5 722.2,359.1 722.3,356.9 722.5,354.9 722.6,353.0 722.8,351.3 722.9,349.9 723.1,348.6 723.3,347.5 723.4,346.6 723.6,345.9 723.8,345.4 723.9,345.1 724.1,345.0 724.2,345.1 724.4,345.4 724.5,345.9 724.7,346.7 724.8,347.6 725.0,348.7 725.1,350.0 725.3,351.6 725.4,353.3 725.5,355.2 725.6,357.3 725.8,359.5 725.9,362.0 726.0,364.6 726.1,367.4 726.2,370.3 726.3,373.4 726.4,376.6 726.5,380.0 726.6,383.5 726.7,387.1 726.8,390.8 726.9,394.6 726.9,398.5 727.0,402.6 727.0,406.6 727.1,410.8 727.1,415.0 727.1,419.3 727.2,423.6 727.2,427.9 727.2,432.2 727.2,436.6 727.2,432.3 727.2,428.0 727.2,423.7 727.3,419.4 727.3,415.2 727.3,411.0 727.4,406.9 727.4,402.9 727.5,398.9 727.6,395.0 727.7,391.2 727.7,387.4 727.8,383.8 727.9,380.3 728.0,376.9 728.1,373.7 728.3,370.6 728.4,367.6 728.5,364.7 728.6,362.1 728.8,359.5 728.9,357.2 729.0,355.0 729.2,353.0 729.3,351.2 729.5,349.5 729.7,348.0 729.8,346.8 730.0,345.7 730.1,344.8 730.3,344.1 730.5,343.6 730.6,343.3 730.8,343.2 731.0,343.3 731.3,343.7 731.5,344.4 731.7,345.4 731.9,346.6 732.1,348.0 732.3,349.7 732.5,351.7 732.7,353.9 732.9,356.3 733.1,358.9 733.3,361.8 733.4,364.8 733.6,368.0 733.7,371.4 733.8,375.0 734.0,378.7 734.1,382.5 734.1,386.5 734.2,390.5 734.3,394.7 734.3,398.9 734.4,403.1 734.4,407.4 734.4,411.7 734.4,407.4 734.4,403.1 734.4,398.8 734.5,394.5 734.5,390.4 734.6,386.3 734.7,382.3 734.7,378.4 734.8,374.6 734.9,371.0 735.0,367.5 735.2,364.2 735.3,361.0 735.4,358.0 735.5,355.3 735.7,352.7 735.8,350.3 736.0,348.2 736.2,346.3 736.3,344.7 736.5,343.2 736.7,342.1 736.9,341.2 737.0,340.5 737.2,340.1 737.4,340.0 737.6,340.1 737.8,340.6 738.1,341.2 738.3,342.2 738.5,343.4 738.7,344.9 738.9,346.7 739.1,348.7 739.3,351.0 739.5,353.4 739.6,356.1 739.8,359.0 740.0,362.1 740.1,365.4 740.2,368.9 740.3,372.5 740.4,376.3 740.5,380.1 740.6,384.1 740.7,388.2 740.7,392.3 740.8,396.5 740.8,400.7 740.8,405.0 740.8,400.7 740.8,396.4 740.8,392.2 740.9,387.9 740.9,383.8 741.0,379.7 741.1,375.6 741.1,371.7 741.2,367.9 741.3,364.2 741.4,360.6 741.5,357.2 741.6,353.9 741.8,350.8 741.9,347.8 742.0,345.0 742.2,342.4 742.3,340.1 742.5,337.9 742.7,335.9 742.8,334.1 743.0,332.6 743.2,331.3 743.4,330.2 743.5,329.4 743.7,328.8 743.9,328.4 744.1,328.3 744.3,328.4 744.6,328.7 744.8,329.3 745.0,330.1 745.2,331.1 745.4,332.3 745.7,333.7 745.9,335.3 746.1,337.1 746.3,339.1 746.5,341.3 746.6,343.7 746.8,346.3 747.0,349.0 747.1,351.9 747.3,355.0 747.4,358.2 747.6,361.5 747.7,365.0 747.8,368.5 747.9,372.2 748.0,376.0 748.1,379.8 748.1,383.7 748.2,387.7 748.2,391.8 748.3,395.8 748.3,399.9 748.3,404.0 748.3,399.7 748.3,395.5 748.3,391.2 748.4,387.0 748.4,382.9 748.5,378.8 748.5,374.8 748.6,370.8 748.7,367.0 748.8,363.3 748.9,359.7 749.0,356.2 749.1,352.9 749.2,349.7 749.3,346.6 749.5,343.8 749.6,341.1 749.7,338.6 749.9,336.3 750.1,334.2 750.2,332.3 750.4,330.6 750.5,329.1 750.7,327.9 750.9,326.8 751.1,326.0 751.2,325.5 751.4,325.1 751.6,325.0 751.8,325.2 752.0,325.6 752.2,326.5 752.3,327.6 752.5,329.0 752.7,330.7 752.9,332.8 753.0,335.1 753.2,337.7 753.3,340.5 753.4,343.5 753.6,346.8 753.7,350.3 753.8,354.0 753.9,357.8 753.9,361.8 754.0,365.9 754.0,370.1 754.1,374.4 754.1,378.7 754.1,383.0 754.1,379.0 754.1,375.1 754.2,371.2 754.2,367.3 754.3,363.5 754.4,359.8 754.5,356.2 754.6,352.6 754.7,349.2 754.9,346.0 755.0,342.8 755.2,339.9 755.4,337.1 755.6,334.5 755.8,332.0 756.0,329.8 756.2,327.8 756.5,326.0 756.7,324.4 756.9,323.1 757.2,322.0 757.4,321.1 757.7,320.5 757.9,320.1 758.2,320.0 758.4,320.1 758.5,320.4 758.7,320.9 758.9,321.6 759.0,322.4 759.2,323.5 759.3,324.7 759.5,326.2 759.7,327.8 759.8,329.6 760.0,331.6 760.1,333.7 760.2,336.0 760.4,338.5 760.5,341.2 760.6,344.0 760.8,346.9 760.9,350.0 761.0,353.2 761.1,356.5 761.2,360.0 761.3,363.6 761.4,367.2 761.5,371.0 761.5,374.9 761.6,378.9 761.7,382.9 761.7,387.0 761.8,391.2 761.8,395.4 761.8,399.7 761.9,404.0 761.9,408.3 761.9,412.6 761.9,417.0 761.9,412.7 761.9,408.3 761.9,404.0 762.0,399.8 762.0,395.5 762.0,391.3 762.1,387.1 762.1,383.0 762.2,379.0 762.2,375.0 762.3,371.1 762.4,367.3 762.5,363.5 762.6,359.9 762.6,356.3 762.7,352.9 762.8,349.6 763.0,346.4 763.1,343.4 763.2,340.4 763.3,337.6 763.4,335.0 763.6,332.5 763.7,330.1 763.8,328.0 764.0,325.9 764.1,324.1 764.3,322.4 764.4,320.8 764.6,319.5 764.7,318.3 764.9,317.3 765.1,316.5 765.2,315.8 765.4,315.4 765.5,315.1 765.7,315.0 765.8,315.1 766.0,315.4 766.1,316.0 766.3,316.7 766.4,317.7 766.6,318.9 766.7,320.3 766.8,321.9 767.0,323.7 767.1,325.7 767.2,328.0 767.4,330.4 767.5,333.0 767.6,335.8 767.8,338.8 767.9,341.9 768.0,345.3 768.1,348.8 768.2,352.5 768.3,356.3 768.4,360.3 768.5,364.4 768.6,368.7 768.7,373.1 768.8,377.7 768.9,382.3 768.9,387.1 769.0,392.0 769.1,397.0 769.1,402.0 769.2,407.2 769.2,412.4 769.3,417.7 769.3,423.1 769.3,428.5 769.4,433.9 769.4,439.4 769.4,444.9 769.4,450.5 769.4,456.0 769.4,450.2 769.4,444.3 769.4,438.5 769.4,432.7 769.5,426.9 769.5,421.2 769.5,415.6 769.6,410.0 769.6,404.4 769.7,399.0 769.7,393.6 769.8,388.4 769.9,383.2 770.0,378.1 770.0,373.2 770.1,368.4 770.2,363.8 770.3,359.2 770.4,354.9 770.5,350.6 770.6,346.6 770.7,342.7 770.8,339.0 771.0,335.5 771.1,332.1 771.2,329.0 771.3,326.0 771.5,323.2 771.6,320.7 771.7,318.3 771.9,316.2 772.0,314.3 772.2,312.6 772.3,311.1 772.5,309.9 772.6,308.8 772.8,308.0 772.9,307.5 773.1,307.1 773.2,307.0 773.3,307.1 773.5,307.4 773.6,307.9 773.8,308.6 773.9,309.5 774.1,310.6 774.2,312.0 774.4,313.5 774.5,315.2 774.7,317.0 774.8,319.1 774.9,321.4 775.1,323.8 775.2,326.5 775.3,329.2 775.4,332.2 775.6,335.3 775.7,338.6 775.8,342.1 775.9,345.7 776.0,349.4 776.1,353.3 776.2,357.3 776.3,361.4 776.4,365.7 776.4,370.0 776.5,374.5 776.6,379.1 776.7,383.7 776.7,388.5 776.8,393.3 776.8,398.2 776.9,403.2 776.9,408.2 776.9,413.2 777.0,418.4 777.0,423.5 777.0,428.6 777.0,433.8 777.0,439.0 777.0,433.7 777.0,428.4 777.0,423.1 777.0,417.8 777.1,412.5 777.1,407.3 777.1,402.2 777.2,397.1 777.2,392.0 777.3,387.1 777.3,382.2 777.4,377.4 777.5,372.7 777.6,368.1 777.6,363.6 777.7,359.2 777.8,355.0 777.9,350.9 778.0,346.9 778.1,343.0 778.2,339.4 778.3,335.8 778.4,332.4 778.6,329.2 778.7,326.2 778.8,323.3 778.9,320.6 779.1,318.1 779.2,315.8 779.3,313.6 779.5,311.7 779.6,309.9 779.8,308.4 779.9,307.0 780.1,305.9 780.2,305.0 780.4,304.2 780.5,303.7 780.7,303.4 780.8,303.3 781.0,303.4 781.2,303.6 781.4,304.1 781.6,304.7 781.8,305.4 782.0,306.4 782.2,307.5 782.3,308.7 782.5,310.1 782.7,311.7 782.9,313.5 783.1,315.4 783.2,317.4 783.4,319.6 783.6,322.0 783.7,324.4 783.9,327.1 784.0,329.8 784.2,332.7 784.3,335.7 784.5,338.9 784.6,342.1 784.7,345.5 784.8,348.9 785.0,352.5 785.1,356.2 785.2,359.9 785.3,363.7 785.3,367.7 785.4,371.6 785.5,375.7 785.6,379.8 785.6,384.0 785.7,388.2 785.7,392.4 785.7,396.7 785.8,401.0 785.8,405.3 785.8,409.7 785.8,414.0 785.8,409.6 785.8,405.1 785.8,400.7 785.9,396.3 785.9,391.9 785.9,387.6 786.0,383.3 786.0,379.0 786.1,374.8 786.1,370.7 786.2,366.6 786.3,362.6 786.3,358.7 786.4,354.9 786.5,351.1 786.6,347.5 786.7,343.9 786.8,340.5 786.9,337.2 787.0,334.0 787.1,330.9 787.3,327.9 787.4,325.1 787.5,322.4 787.7,319.9 787.8,317.5 787.9,315.2 788.1,313.1 788.2,311.2 788.4,309.4 788.5,307.8 788.7,306.3 788.9,305.1 789.0,303.9 789.2,303.0 789.3,302.2 789.5,301.6 789.7,301.1 789.8,300.9 790.0,300.8 790.2,300.9 790.4,301.1 790.5,301.6 790.7,302.2 790.9,302.9 791.1,303.9 791.2,305.0 791.4,306.2 791.6,307.6 791.8,309.2 791.9,311.0 792.1,312.9 792.2,314.9 792.4,317.1 792.6,319.5 792.7,322.0 792.8,324.6 793.0,327.3 793.1,330.2 793.3,333.3 793.4,336.4 793.5,339.6 793.6,343.0 793.7,346.5 793.8,350.0 793.9,353.7 794.0,357.5 794.1,361.3 794.2,365.2 794.2,369.2 794.3,373.3 794.4,377.4 794.4,381.5 794.5,385.7 794.5,390.0 794.5,394.3 794.6,398.6 794.6,402.9 794.6,407.3 794.6,411.6 794.6,407.1 794.6,402.6 794.6,398.2 794.7,393.8 794.7,389.3 794.7,385.0 794.8,380.6 794.8,376.3 794.9,372.1 794.9,367.9 795.0,363.8 795.1,359.8 795.2,355.8 795.3,352.0 795.4,348.2 795.5,344.5 795.6,341.0 795.7,337.5 795.8,334.1 795.9,330.9 796.0,327.8 796.2,324.8 796.3,322.0 796.5,319.3 796.6,316.7 796.7,314.3 796.9,312.0 797.1,309.9 797.2,308.0 797.4,306.2 797.5,304.6 797.7,303.1 797.9,301.8 798.0,300.7 798.2,299.7 798.4,298.9 798.6,298.3 798.7,297.9 798.9,297.6 799.1,297.5 799.4,297.6 799.6,297.8 799.9,298.3 800.1,298.9 800.4,299.6 800.7,300.5 800.9,301.6 801.2,302.9 801.4,304.3 801.7,305.9 801.9,307.6 802.1,309.5 802.4,311.5 802.6,313.7 802.8,316.0 803.0,318.5 803.2,321.1 803.5,323.8 803.6,326.7 803.8,329.7 804.0,332.8 804.2,336.0 804.4,339.4 804.5,342.8 804.7,346.3 804.8,350.0 804.9,353.7 805.1,357.5 805.2,361.4 805.3,365.3 805.4,369.4 805.5,373.4 805.5,377.6 805.6,381.7 805.7,386.0 805.7,390.2 805.8,394.5 805.8,398.8 805.8,403.1 805.8,407.4 805.8,403.0 805.8,398.6 805.8,394.2 805.9,389.8 805.9,385.5 805.9,381.2 806.0,376.9 806.0,372.7 806.1,368.5 806.1,364.4 806.2,360.3 806.3,356.4 806.3,352.5 806.4,348.7 806.5,345.0 806.6,341.3 806.7,337.8 806.8,334.4 806.9,331.1 807.0,327.9 807.1,324.9 807.3,321.9 807.4,319.1 807.5,316.5 807.7,313.9 807.8,311.6 807.9,309.3 808.1,307.3 808.2,305.3 808.4,303.6 808.5,301.9 808.7,300.5 808.9,299.2 809.0,298.1 809.2,297.2 809.3,296.4 809.5,295.8 809.7,295.3 809.8,295.1 810.0,295.0 816.6,295.0 818.2,296.4 819.8,298.6 821.5,300.4 823.3,300.8 831.6,290.0 835.5,291.0 835.6,291.1 835.6,291.4 835.7,291.9 835.8,292.6 835.9,293.4 835.9,294.5 836.0,295.7 836.1,297.2 836.2,298.8 836.2,300.6 836.3,302.6 836.4,304.8 836.4,307.1 836.5,309.6 836.6,312.3 836.6,315.1 836.7,318.1 836.7,321.3 836.8,324.6 836.8,328.0 836.9,331.6 836.9,335.3 837.0,339.1 837.0,343.1 837.1,347.2 837.1,351.4 837.2,355.6 837.2,360.0 837.2,364.5 837.3,369.0 837.3,373.7 837.3,378.3 837.3,383.1 837.3,387.9 837.4,392.7 837.4,397.6 837.4,402.5 837.4,407.5 837.4,412.4 837.4,417.4 837.4,412.4 837.4,407.3 837.4,402.3 837.5,397.3 837.5,392.4 837.5,387.4 837.6,382.6 837.6,377.8 837.7,373.0 837.7,368.3 837.8,363.7 837.9,359.2 837.9,354.7 838.0,350.4 838.1,346.1 838.2,342.0 838.3,338.0 838.4,334.1 838.5,330.3 838.6,326.7 838.7,323.2 838.9,319.8 839.0,316.6 839.1,313.6 839.3,310.7 839.4,308.0 839.5,305.5 839.7,303.1 839.8,300.9 840.0,298.9 840.1,297.0 840.3,295.4 840.5,293.9 840.6,292.6 840.8,291.6 840.9,290.7 841.1,290.0 841.3,289.5 841.4,289.2 841.6,289.1 841.7,289.2 841.8,289.6 841.9,290.3 842.0,291.2 842.1,292.3 842.2,293.8 842.3,295.4 842.3,297.3 842.4,299.5 842.5,301.9 842.6,304.6 842.7,307.4 842.8,310.6 842.9,313.9 842.9,317.5 843.0,321.2 843.1,325.2 843.2,329.4 843.2,333.8 843.3,338.4 843.4,343.2 843.4,348.1 843.5,353.2 843.5,358.5 843.6,363.9 843.6,369.5 843.7,375.2 843.7,381.0 843.8,386.9 843.8,393.0 843.9,399.1 843.9,405.4 843.9,411.7 843.9,418.1 844.0,424.6 844.0,431.1 844.0,437.6 844.0,444.2 844.0,450.8 844.0,457.4 844.0,450.9 844.0,444.4 844.0,438.0 844.0,431.5 844.0,425.1 844.1,418.8 844.1,412.5 844.1,406.3 844.2,400.2 844.2,394.1 844.2,388.2 844.3,382.3 844.3,376.6 844.4,371.0 844.4,365.5 844.5,360.2 844.5,355.0 844.6,350.0 844.7,345.1 844.7,340.4 844.8,335.9 844.9,331.6 845.0,327.5 845.0,323.6 845.1,319.9 845.2,316.4 845.3,313.1 845.4,310.0 845.5,307.2 845.5,304.6 845.6,302.2 845.7,300.1 845.8,298.2 845.9,296.6 846.0,295.2 846.1,294.0 846.2,293.1 846.3,292.5 846.4,292.1 846.5,292.0 846.6,292.1 846.7,292.4 846.8,292.8 846.9,293.4 847.0,294.2 847.1,295.2 847.2,296.4 847.3,297.7 847.4,299.2 847.5,300.9 847.6,302.7 847.7,304.7 847.8,306.9 847.8,309.2 847.9,311.7 848.0,314.3 848.1,317.1 848.2,320.0 848.2,323.0 848.3,326.2 848.4,329.5 848.4,332.9 848.5,336.4 848.6,340.1 848.6,343.8 848.7,347.6 848.7,351.6 848.8,355.6 848.8,359.7 848.8,363.8 848.9,368.1 848.9,372.3 848.9,376.7 848.9,381.0 849.0,385.4 849.0,389.9 849.0,394.3 849.0,398.8 849.0,403.3 849.0,398.5 849.0,393.7 849.0,388.9 849.0,384.2 849.0,379.4 849.0,374.8 849.0,370.2 849.0,365.6 849.1,361.1 849.1,356.7 849.1,352.4 849.1,348.2 849.1,344.1 849.1,340.1 849.2,336.2 849.2,332.4 849.2,328.8 849.2,325.4 849.3,322.0 849.3,318.9 849.3,315.8 849.3,313.0 849.4,310.3 849.4,307.8 849.4,305.5 849.5,303.4 849.5,301.5 849.5,299.7 849.6,298.2 849.6,296.8 849.6,295.7 849.7,294.7 849.7,294.0 849.7,293.5 849.8,293.2 849.8,293.1 849.9,293.3 849.9,293.9 850.0,295.0 850.1,296.4 850.1,298.3 850.2,300.6 850.3,303.2 850.3,306.2 850.4,309.5 850.4,313.1 850.5,316.9 850.5,321.1 850.5,325.4 850.6,329.9 850.6,334.6 850.6,339.3 850.6,344.2 850.6,349.0 850.6,344.2 850.6,339.4 850.6,334.6 850.6,330.0 850.7,325.5 850.7,321.2 850.7,317.1 850.8,313.2 850.8,309.6 850.9,306.3 850.9,303.4 850.9,300.8 851.0,298.5 851.1,296.6 851.1,295.2 851.2,294.1 851.2,293.5 851.3,293.3 851.3,293.4 851.4,293.9 851.4,294.7 851.5,295.8 851.5,297.2 851.6,299.0 851.6,301.0 851.6,303.3 851.7,305.9 851.7,308.7 851.8,311.8 851.8,315.2 851.8,318.7 851.9,322.5 851.9,326.5 851.9,330.6 851.9,335.0 851.9,339.4 852.0,344.0 852.0,348.7 852.0,353.4 852.0,358.2 852.0,363.1 852.0,368.0 852.0,363.2 852.0,358.4 852.0,353.6 852.0,348.9 852.0,344.3 852.1,339.7 852.1,335.3 852.1,331.1 852.1,327.0 852.2,323.0 852.2,319.3 852.2,315.8 852.3,312.5 852.3,309.4 852.4,306.6 852.4,304.0 852.4,301.8 852.5,299.8 852.5,298.1 852.6,296.7 852.6,295.6 852.7,294.8 852.7,294.3 852.8,294.1 852.9,294.3 852.9,294.9 853.0,295.8 853.0,297.1 853.1,298.8 853.2,300.8 853.2,303.2 853.3,305.8 853.3,308.8 853.4,312.0 853.4,315.6 853.4,319.3 853.5,323.3 853.5,327.5 853.5,331.9 853.6,336.4 853.6,341.0 853.6,345.7 853.6,350.5 853.6,355.3 853.6,350.7 853.6,346.2 853.6,341.8 853.7,337.4 853.7,333.2 853.7,329.0 853.8,325.0 853.8,321.2 853.9,317.5 853.9,314.1 854.0,310.9 854.1,307.9 854.1,305.3 854.2,302.8 854.3,300.7 854.4,298.9 854.4,297.4 854.5,296.3 854.6,295.4 854.7,294.9 854.8,294.7 854.9,294.9 854.9,295.3 855.0,296.0 855.1,296.9 855.1,298.1 855.2,299.6 855.3,301.3 855.3,303.3 855.4,305.5 855.5,307.9 855.5,310.6 855.6,313.5 855.6,316.6 855.7,319.9 855.7,323.4 855.8,327.1 855.8,330.9 855.8,334.9 855.9,339.0 855.9,343.2 855.9,347.5 855.9,352.0 856.0,356.5 856.0,361.1 856.0,365.7 856.0,370.3 856.0,375.0 856.0,370.1 856.0,365.3 856.0,360.5 856.0,355.7 856.0,351.0 856.1,346.5 856.1,342.0 856.1,337.6 856.1,333.5 856.2,329.4 856.2,325.6 856.2,321.9 856.3,318.5 856.3,315.3 856.3,312.3 856.4,309.5 856.4,307.1 856.5,304.8 856.5,302.9 856.6,301.3 856.6,299.9 856.7,298.8 856.7,298.1 856.7,297.6 856.8,297.5 856.9,297.7 857.0,298.5 857.0,299.8 857.1,301.6 857.2,303.9 857.3,306.6 857.3,309.7 857.4,313.3 857.4,317.2 857.5,321.3 857.5,325.8 857.6,330.5 857.6,335.3 857.6,340.2 857.6,345.2 857.6,340.3 857.6,335.4 857.6,330.6 857.7,325.9 857.7,321.5 857.8,317.4 857.8,313.5 857.9,310.0 857.9,306.9 858.0,304.2 858.1,301.9 858.2,300.1 858.2,298.9 858.3,298.1 858.4,297.8 858.5,298.0 858.5,298.7 858.6,299.8 858.7,301.3 858.8,303.2 858.8,305.5 858.9,308.2 858.9,311.3 859.0,314.7 859.0,318.3 859.1,322.3 859.1,326.4 859.1,330.8 859.2,335.3 859.2,339.9 859.2,344.6 859.2,349.4 859.2,344.5 859.2,339.7 859.2,335.0 859.3,330.4 859.3,325.9 859.3,321.7 859.4,317.8 859.4,314.2 859.5,310.9 859.6,308.0 859.6,305.5 859.7,303.4 859.8,301.8 859.8,300.6 859.9,299.9 860.0,299.6 860.1,299.8 860.1,300.4 860.2,301.3 860.2,302.7 860.3,304.4 860.4,306.4 860.4,308.8 860.5,311.5 860.5,314.5 860.6,317.9 860.6,321.5 860.6,325.3 860.7,329.4 860.7,333.6 860.7,338.1 860.8,342.7 860.8,347.4 860.8,352.2 860.8,357.0 860.8,361.9 860.8,357.2 860.8,352.5 860.8,347.8 860.8,343.2 860.8,338.8 860.8,334.5 860.9,330.3 860.9,326.4 860.9,322.6 860.9,319.2 861.0,315.9 861.0,313.0 861.0,310.4 861.0,308.0 861.1,306.0 861.1,304.4 861.1,303.1 861.2,302.2 861.2,301.6 861.2,301.4 861.3,301.5 861.3,301.9 861.3,302.4 861.3,303.2 861.3,304.2 861.4,305.4 861.4,306.8 861.4,308.4 861.4,310.2 861.4,312.2 861.4,314.4 861.5,316.9 861.5,319.5 861.5,322.3 861.5,325.3 861.5,328.5 861.5,331.8 861.5,335.4 861.6,339.0 861.6,342.9 861.6,346.9 861.6,351.1 861.6,355.4 861.6,359.8 861.6,364.4 861.6,369.0 861.6,373.8 861.7,378.7 861.7,383.7 861.7,388.8 861.7,394.0 861.7,399.3 861.7,404.6 861.7,410.0 861.7,415.4 861.7,420.9 861.7,426.4 861.7,431.9 861.7,437.4 861.7,443.0 861.7,437.5 861.7,432.0 861.7,426.5 861.7,421.0 861.7,415.6 861.7,410.2 861.7,404.8 861.7,399.6 861.7,394.3 861.8,389.2 861.8,384.1 861.8,379.2 861.8,374.3 861.8,369.5 861.8,364.9 861.9,360.4 861.9,356.0 861.9,351.7 861.9,347.6 861.9,343.6 862.0,339.8 862.0,336.1 862.0,332.6 862.0,329.3 862.1,326.1 862.1,323.1 862.1,320.3 862.1,317.7 862.2,315.3 862.2,313.1 862.2,311.1 862.3,309.3 862.3,307.7 862.3,306.3 862.3,305.1 862.4,304.1 862.4,303.4 862.4,302.8 862.5,302.5 862.5,302.4 862.6,302.7 862.7,303.4 862.7,304.6 862.8,306.3 862.9,308.4 862.9,311.0 863.0,313.9 863.1,317.3 863.1,320.9 863.2,324.9 863.2,329.2 863.2,333.7 863.3,338.4 863.3,343.2 863.3,348.1 863.3,353.1 863.3,348.3 863.3,343.5 863.3,338.9 863.4,334.3 863.4,330.0 863.4,325.8 863.5,322.0 863.5,318.4 863.6,315.2 863.7,312.3 863.7,309.8 863.8,307.8 863.9,306.1 863.9,305.0 864.0,304.3 864.1,304.0 864.2,304.3 864.3,305.1 864.4,306.5 864.4,308.3 864.5,310.7 864.6,313.5 864.7,316.8 864.7,320.4 864.8,324.4 864.8,328.7 864.9,333.2 864.9,337.9 864.9,342.7 864.9,347.6 864.9,342.5 864.9,337.6 864.9,332.7 865.0,328.1 865.0,323.8 865.0,319.9 865.1,316.3 865.1,313.2 865.2,310.6 865.2,308.5 865.3,307.0 865.3,306.1 865.4,305.8 865.4,305.9 865.4,306.2 865.5,306.7 865.5,307.4 865.5,308.3 865.5,309.4 865.5,310.7 865.6,312.2 865.6,313.9 865.6,315.8 865.6,317.9 865.6,320.1 865.7,322.5 865.7,325.1 865.7,327.9 865.7,330.8 865.7,333.9 865.7,337.2 865.8,340.6 865.8,344.1 865.8,347.8 865.8,351.6 865.8,355.5 865.8,359.5 865.8,363.6 865.8,367.9 865.9,372.2 865.9,376.6 865.9,381.1 865.9,385.6 865.9,390.2 865.9,394.9 865.9,399.6 865.9,404.4 865.9,409.1 865.9,413.9 865.9,418.7 865.9,414.0 865.9,409.3 865.9,404.6 865.9,399.9 865.9,395.2 865.9,390.6 865.9,386.1 865.9,381.6 866.0,377.2 866.0,372.8 866.0,368.6 866.0,364.4 866.0,360.3 866.0,356.4 866.1,352.5 866.1,348.8 866.1,345.2 866.1,341.7 866.1,338.3 866.2,335.1 866.2,332.1 866.2,329.2 866.3,326.5 866.3,323.9 866.3,321.5 866.3,319.3 866.4,317.3 866.4,315.4 866.4,313.7 866.5,312.3 866.5,311.0 866.5,309.9 866.6,309.0 866.6,308.3 866.6,307.8 866.7,307.5 866.7,307.4 866.8,307.6 866.9,308.4 866.9,309.7 867.0,311.4 867.1,313.6 867.2,316.3 867.2,319.3 867.3,322.8 867.3,326.6 867.4,330.6 867.4,335.0 867.5,339.5 867.5,344.2 867.5,349.0 867.5,353.9 867.5,349.2 867.5,344.5 867.5,339.9 867.6,335.5 867.6,331.2 867.7,327.3 867.7,323.6 867.8,320.2 867.8,317.2 867.9,314.6 868.0,312.5 868.1,310.8 868.1,309.6 868.2,308.8 868.3,308.6 868.4,308.8 868.5,309.6 868.5,310.9 868.6,312.7 868.7,315.0 868.8,317.7 868.8,320.9 868.9,324.4 868.9,328.3 869.0,332.5 869.0,337.0 869.1,341.6 869.1,346.5 869.1,351.4 869.1,356.4 869.1,351.4 869.1,346.4 869.1,341.6 869.2,337.0 869.2,332.5 869.3,328.4 869.3,324.7 869.4,321.3 869.5,318.4 869.6,316.0 869.6,314.1 869.7,312.7 869.8,311.8 869.9,311.6 870.0,311.8 870.1,312.6 870.1,313.8 870.2,315.6 870.3,317.8 870.4,320.4 870.4,323.5 870.5,326.9 870.5,330.7 870.6,334.7 870.6,339.0 870.7,343.6 870.7,348.3 870.7,353.0 870.7,357.9 870.7,352.9 870.7,348.1 870.8,343.3 870.8,338.7 870.8,334.4 870.9,330.4 871.0,326.7 871.0,323.4 871.1,320.5 871.2,318.1 871.3,316.2 871.4,314.8 871.5,314.0 871.6,313.7 871.7,313.9 871.7,314.3 871.8,314.9 871.8,315.8 871.8,317.0 871.9,318.5 871.9,320.1 872.0,322.1 872.0,324.2 872.1,326.6 872.1,329.3 872.2,332.1 872.2,335.2 872.2,338.4 872.3,341.8 872.3,345.5 872.3,349.2 872.4,353.2 872.4,357.2 872.4,361.4 872.4,365.8 872.4,370.2 872.5,374.7 872.5,379.2 872.5,383.9 872.5,388.6 872.5,393.3 872.5,398.0 872.5,393.2 872.5,388.4 872.5,383.7 872.5,379.0 872.5,374.3 872.6,369.8 872.6,365.3 872.6,361.0 872.6,356.8 872.6,352.8 872.7,348.9 872.7,345.2 872.7,341.7 872.8,338.4 872.8,335.4 872.8,332.5 872.9,329.9 872.9,327.6 873.0,325.4 873.0,323.6 873.1,322.0 873.1,320.8 873.2,319.7 873.2,319.0 873.3,318.6 873.3,318.4 873.4,318.9 873.6,320.1 873.7,322.1 873.8,324.8 873.9,328.1 874.0,332.0 874.1,336.3 874.1,340.8 874.1,345.5 874.1,340.7 874.1,336.0 874.2,331.7 874.2,328.0 874.3,324.9 874.4,322.6 874.5,321.2 874.5,320.7 874.6,320.9 874.6,321.4 874.7,322.3 874.7,323.5 874.7,325.1 874.7,327.1 874.8,329.3 874.8,331.9 874.8,334.7 874.9,337.9 874.9,341.3 874.9,344.9 874.9,348.8 874.9,352.8 875.0,357.1 875.0,361.5 875.0,366.0 875.0,370.7 875.0,375.4 875.0,380.2 875.0,385.0 875.0,380.2 875.0,375.5 875.0,370.8 875.0,366.2 875.1,361.7 875.1,357.4 875.1,353.2 875.2,349.2 875.2,345.5 875.2,342.0 875.3,338.7 875.3,335.8 875.4,333.1 875.4,330.8 875.5,328.8 875.6,327.1 875.6,325.8 875.7,324.9 875.7,324.3 875.8,324.1 875.9,324.5 876.0,325.5 876.1,327.1 876.2,329.4 876.3,332.2 876.4,335.6 876.5,339.3 876.5,343.5 876.6,347.9 876.6,352.5 876.6,357.2 876.6,352.5 876.6,348.0 876.7,343.7 876.8,339.8 876.9,336.5 877.0,333.7 877.1,331.8 877.3,330.5 877.4,330.1 877.5,330.5 877.7,331.7 877.8,333.7 877.9,336.4 878.0,339.8 878.1,343.6 878.2,347.9 878.2,352.4 878.2,357.1 878.2,351.8 878.3,346.8 878.4,342.5 878.6,339.2 878.8,337.1 879.0,336.4 879.2,336.9 879.4,338.4 879.6,340.9 879.7,344.0 879.8,347.7 879.8,351.7 879.8,348.9 879.9,346.3 879.9,344.0 880.0,342.3 880.1,341.2 880.2,340.8 880.3,341.0 880.3,341.5 880.3,342.3 880.4,343.5 880.4,344.9 880.4,346.7 880.5,348.8 880.5,351.2 880.5,353.9 880.5,356.9 880.6,360.1 880.6,363.5 880.6,367.2 880.6,371.1 880.6,375.2 880.6,379.5 880.7,383.9 880.7,388.4 880.7,393.1 880.7,397.8 880.7,402.7 880.7,407.5 880.7,412.4 880.7,407.6 880.7,402.8 880.7,398.0 880.7,393.3 880.7,388.8 880.7,384.3 880.7,380.0 880.8,375.8 880.8,371.9 880.8,368.1 880.8,364.6 880.8,361.3 880.9,358.3 880.9,355.5 880.9,353.0 880.9,350.9 881.0,349.0 881.0,347.5 881.0,346.3 881.0,345.5 881.1,344.9 881.1,344.8 881.2,345.3 881.3,346.9 881.4,349.5 881.4,352.8 881.5,356.7 881.5,360.9 881.5,356.0 881.5,351.1 881.5,346.4 881.5,341.9 881.4,337.7 881.4,333.8 881.4,330.3 881.4,327.2 881.3,324.7 881.3,322.7 881.3,321.2 881.2,320.3 881.2,320.0 881.0,300.0 881.2,295.3 881.3,290.7 881.4,286.0 881.5,281.4 881.7,276.7 881.8,272.1 882.1,267.4 882.3,262.8 882.6,258.1 883.0,253.5 883.5,248.8 884.0,244.2 884.7,239.5 885.4,234.8 886.2,230.2 887.2,225.5 888.2,220.9 889.3,216.2 890.6,211.6 892.0,206.9 893.5,202.3 895.1,197.6 896.8,193.0 898.7,188.3 900.6,183.7 902.7,179.0 904.9,174.3 907.2,169.7 909.6,165.0 912.1,160.4 914.7,155.7 917.4,151.1 920.2,146.4 923.0,141.8 926.0,137.1 928.9,132.5 929.7,131.3 930.4,130.2 931.2,129.0 932.0,127.8 932.8,126.6 933.5,125.5 934.3,124.4 935.1,123.2 938.2,118.5" stroke="#00d400" stroke-width="3.3"/>
</g>
<path d="M183.30 571.5v-7M183.30 9v7M232.55 571.5v-7M232.55 9v7M267.50 571.5v-7M267.50 9v7M294.60 571.5v-7M294.60 9v7M316.75 571.5v-7M316.75 9v7M335.47 571.5v-7M335.47 9v7M351.69 571.5v-7M351.69 9v7M366.00 571.5v-7M366.00 9v7M378.80 571.5v-14M378.80 9v14M463.00 571.5v-7M463.00 9v7M512.25 571.5v-7M512.25 9v7M547.20 571.5v-7M547.20 9v7M574.30 571.5v-7M574.30 9v7M596.45 571.5v-7M596.45 9v7M615.17 571.5v-7M615.17 9v7M631.39 571.5v-7M631.39 9v7M645.70 571.5v-7M645.70 9v7M658.50 571.5v-14M658.50 9v14M742.70 571.5v-7M742.70 9v7M791.95 571.5v-7M791.95 9v7M826.90 571.5v-7M826.90 9v7M854.00 571.5v-7M854.00 9v7M876.15 571.5v-7M876.15 9v7M894.87 571.5v-7M894.87 9v7M911.09 571.5v-7M911.09 9v7M925.40 571.5v-7M925.40 9v7M99 543.20h7.5M937.4 543.20h-7.5M99 515.10h7.5M937.4 515.10h-7.5M99 487.00h7.5M937.4 487.00h-7.5M99 458.90h7.5M937.4 458.90h-7.5M99 430.80h17M937.4 430.80h-17M99 402.70h7.5M937.4 402.70h-7.5M99 374.60h7.5M937.4 374.60h-7.5M99 346.50h7.5M937.4 346.50h-7.5M99 318.40h7.5M937.4 318.40h-7.5M99 290.30h17M937.4 290.30h-17M99 262.20h7.5M937.4 262.20h-7.5M99 234.10h7.5M937.4 234.10h-7.5M99 206.00h7.5M937.4 206.00h-7.5M99 177.90h7.5M937.4 177.90h-7.5M99 149.80h17M937.4 149.80h-17M99 121.70h7.5M937.4 121.70h-7.5M99 93.60h7.5M937.4 93.60h-7.5M99 65.50h7.5M937.4 65.50h-7.5M99 37.40h7.5M937.4 37.40h-7.5" stroke="#000" stroke-width="1.4" fill="none"/>
<g stroke="#000" fill="none">
<path d="M99.2 8V572.4" stroke-width="2"/>
<path d="M98.2 8.9H938.1" stroke-width="1.9"/>
<path d="M937.45 8V572.4" stroke-width="1.3"/>
<path d="M98.2 571.6H938.1" stroke-width="1.7"/>
</g>
<g font-family="Liberation Serif" font-weight="bold" fill="#000">
<g font-size="29.5" text-anchor="end">
<text x="87" y="20">120</text>
<text x="87" y="161.5">90</text>
<text x="87" y="294.5">60</text>
<text x="87" y="443">30</text>
<text x="87" y="576">0</text>
</g>
<g font-size="29.5">
<text x="89.2" y="598.7">10<tspan font-size="16.5" dx="0" dy="-9.6">0</tspan></text>
<text x="358.6" y="598.7">10<tspan font-size="16.5" dx="0" dy="-9.6">1</tspan></text>
<text x="642" y="598.7">10<tspan font-size="16.5" dx="0" dy="-9.6">2</tspan></text>
<text x="905.8" y="598.7">10<tspan font-size="16.5" dx="0" dy="-9.6">3</tspan></text>
</g>
<text x="366.5" y="649.5" font-size="46.7">Frequency (GHz)</text>
<text transform="translate(32.5,377.5) rotate(-90)" font-size="46">STL (dB)</text>
<g font-size="33.5">
<text x="536" y="82">Ceramic</text>
<text x="534" y="127.5"><tspan font-style="italic">λ</tspan>=1</text>
<text x="536" y="165.5">Metal</text>
</g>
</g>
<g fill="none" stroke-width="3">
<path d="M438 71.8H518.5" stroke="#00d400"/>
<path d="M438 114.8H518.5" stroke="#1e1ef0" stroke-dasharray="6.4 6.3"/>
<path d="M438 156.1H518.5" stroke="#ff00ff" stroke-dasharray="12.9 12.8"/>
</g>
</svg>
</body></html>
